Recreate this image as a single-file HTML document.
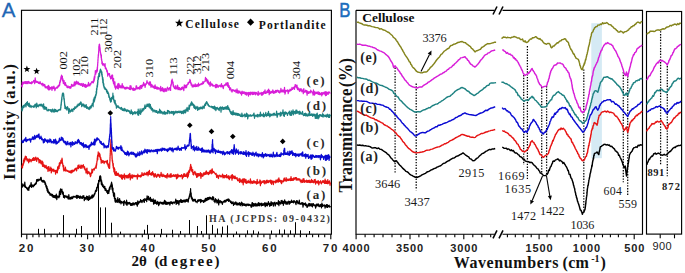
<!DOCTYPE html>
<html><head><meta charset="utf-8"><style>
html,body{margin:0;padding:0;background:#fff;}
svg{display:block;}
</style></head><body>
<svg width="685" height="273" viewBox="0 0 685 273">
<rect width="685" height="273" fill="#fff"/>
<rect x="21.5" y="10.3" width="309.9" height="223.9" fill="none" stroke="#000" stroke-width="1.15"/>
<line x1="21.5" y1="234" x2="21.5" y2="237.3" stroke="#000" stroke-width="1.1"/>
<line x1="26.8" y1="234.2" x2="26.8" y2="239.2" stroke="#000" stroke-width="1.1"/>
<line x1="32.9" y1="234.2" x2="32.9" y2="237.2" stroke="#000" stroke-width="1.1"/>
<line x1="39" y1="234.2" x2="39" y2="237.2" stroke="#000" stroke-width="1.1"/>
<line x1="45" y1="234.2" x2="45" y2="237.2" stroke="#000" stroke-width="1.1"/>
<line x1="51.1" y1="234.2" x2="51.1" y2="237.2" stroke="#000" stroke-width="1.1"/>
<line x1="57.2" y1="234.2" x2="57.2" y2="237.2" stroke="#000" stroke-width="1.1"/>
<line x1="63.3" y1="234.2" x2="63.3" y2="237.2" stroke="#000" stroke-width="1.1"/>
<line x1="69.4" y1="234.2" x2="69.4" y2="237.2" stroke="#000" stroke-width="1.1"/>
<line x1="75.4" y1="234.2" x2="75.4" y2="237.2" stroke="#000" stroke-width="1.1"/>
<line x1="81.5" y1="234.2" x2="81.5" y2="237.2" stroke="#000" stroke-width="1.1"/>
<line x1="87.6" y1="234.2" x2="87.6" y2="239.2" stroke="#000" stroke-width="1.1"/>
<line x1="93.7" y1="234.2" x2="93.7" y2="237.2" stroke="#000" stroke-width="1.1"/>
<line x1="99.8" y1="234.2" x2="99.8" y2="237.2" stroke="#000" stroke-width="1.1"/>
<line x1="105.8" y1="234.2" x2="105.8" y2="237.2" stroke="#000" stroke-width="1.1"/>
<line x1="111.9" y1="234.2" x2="111.9" y2="237.2" stroke="#000" stroke-width="1.1"/>
<line x1="118" y1="234.2" x2="118" y2="237.2" stroke="#000" stroke-width="1.1"/>
<line x1="124.1" y1="234.2" x2="124.1" y2="237.2" stroke="#000" stroke-width="1.1"/>
<line x1="130.2" y1="234.2" x2="130.2" y2="237.2" stroke="#000" stroke-width="1.1"/>
<line x1="136.2" y1="234.2" x2="136.2" y2="237.2" stroke="#000" stroke-width="1.1"/>
<line x1="142.3" y1="234.2" x2="142.3" y2="237.2" stroke="#000" stroke-width="1.1"/>
<line x1="148.4" y1="234.2" x2="148.4" y2="239.2" stroke="#000" stroke-width="1.1"/>
<line x1="154.5" y1="234.2" x2="154.5" y2="237.2" stroke="#000" stroke-width="1.1"/>
<line x1="160.6" y1="234.2" x2="160.6" y2="237.2" stroke="#000" stroke-width="1.1"/>
<line x1="166.6" y1="234.2" x2="166.6" y2="237.2" stroke="#000" stroke-width="1.1"/>
<line x1="172.7" y1="234.2" x2="172.7" y2="237.2" stroke="#000" stroke-width="1.1"/>
<line x1="178.8" y1="234.2" x2="178.8" y2="237.2" stroke="#000" stroke-width="1.1"/>
<line x1="184.9" y1="234.2" x2="184.9" y2="237.2" stroke="#000" stroke-width="1.1"/>
<line x1="191" y1="234.2" x2="191" y2="237.2" stroke="#000" stroke-width="1.1"/>
<line x1="197" y1="234.2" x2="197" y2="237.2" stroke="#000" stroke-width="1.1"/>
<line x1="203.1" y1="234.2" x2="203.1" y2="237.2" stroke="#000" stroke-width="1.1"/>
<line x1="209.2" y1="234.2" x2="209.2" y2="239.2" stroke="#000" stroke-width="1.1"/>
<line x1="215.3" y1="234.2" x2="215.3" y2="237.2" stroke="#000" stroke-width="1.1"/>
<line x1="221.4" y1="234.2" x2="221.4" y2="237.2" stroke="#000" stroke-width="1.1"/>
<line x1="227.4" y1="234.2" x2="227.4" y2="237.2" stroke="#000" stroke-width="1.1"/>
<line x1="233.5" y1="234.2" x2="233.5" y2="237.2" stroke="#000" stroke-width="1.1"/>
<line x1="239.6" y1="234.2" x2="239.6" y2="237.2" stroke="#000" stroke-width="1.1"/>
<line x1="245.7" y1="234.2" x2="245.7" y2="237.2" stroke="#000" stroke-width="1.1"/>
<line x1="251.8" y1="234.2" x2="251.8" y2="237.2" stroke="#000" stroke-width="1.1"/>
<line x1="257.8" y1="234.2" x2="257.8" y2="237.2" stroke="#000" stroke-width="1.1"/>
<line x1="263.9" y1="234.2" x2="263.9" y2="237.2" stroke="#000" stroke-width="1.1"/>
<line x1="270" y1="234.2" x2="270" y2="239.2" stroke="#000" stroke-width="1.1"/>
<line x1="276.1" y1="234.2" x2="276.1" y2="237.2" stroke="#000" stroke-width="1.1"/>
<line x1="282.2" y1="234.2" x2="282.2" y2="237.2" stroke="#000" stroke-width="1.1"/>
<line x1="288.2" y1="234.2" x2="288.2" y2="237.2" stroke="#000" stroke-width="1.1"/>
<line x1="294.3" y1="234.2" x2="294.3" y2="237.2" stroke="#000" stroke-width="1.1"/>
<line x1="300.4" y1="234.2" x2="300.4" y2="237.2" stroke="#000" stroke-width="1.1"/>
<line x1="306.5" y1="234.2" x2="306.5" y2="237.2" stroke="#000" stroke-width="1.1"/>
<line x1="312.6" y1="234.2" x2="312.6" y2="237.2" stroke="#000" stroke-width="1.1"/>
<line x1="318.6" y1="234.2" x2="318.6" y2="237.2" stroke="#000" stroke-width="1.1"/>
<line x1="324.7" y1="234.2" x2="324.7" y2="237.2" stroke="#000" stroke-width="1.1"/>
<line x1="330.8" y1="234.2" x2="330.8" y2="239.2" stroke="#000" stroke-width="1.1"/>
<line x1="38.5" y1="234.2" x2="38.5" y2="228.8" stroke="#000" stroke-width="1.05"/>
<line x1="44.5" y1="234.2" x2="44.5" y2="228.8" stroke="#000" stroke-width="1.05"/>
<line x1="59.5" y1="234.2" x2="59.5" y2="232.3" stroke="#000" stroke-width="1.05"/>
<line x1="63.5" y1="234.2" x2="63.5" y2="215.1" stroke="#000" stroke-width="1.05"/>
<line x1="76.5" y1="234.2" x2="76.5" y2="228.8" stroke="#000" stroke-width="1.05"/>
<line x1="81.5" y1="234.2" x2="81.5" y2="226" stroke="#000" stroke-width="1.05"/>
<line x1="98.5" y1="234.2" x2="98.5" y2="180" stroke="#000" stroke-width="1.05"/>
<line x1="100.5" y1="234.2" x2="100.5" y2="207.4" stroke="#000" stroke-width="1.05"/>
<line x1="105.5" y1="234.2" x2="105.5" y2="207.4" stroke="#000" stroke-width="1.05"/>
<line x1="111.5" y1="234.2" x2="111.5" y2="222.7" stroke="#000" stroke-width="1.05"/>
<line x1="120.5" y1="234.2" x2="120.5" y2="231.6" stroke="#000" stroke-width="1.05"/>
<line x1="144.5" y1="234.2" x2="144.5" y2="229.7" stroke="#000" stroke-width="1.05"/>
<line x1="147.5" y1="234.2" x2="147.5" y2="224.9" stroke="#000" stroke-width="1.05"/>
<line x1="161.5" y1="234.2" x2="161.5" y2="228.9" stroke="#000" stroke-width="1.05"/>
<line x1="172.5" y1="234.2" x2="172.5" y2="229.7" stroke="#000" stroke-width="1.05"/>
<line x1="180.5" y1="234.2" x2="180.5" y2="231" stroke="#000" stroke-width="1.05"/>
<line x1="189.5" y1="234.2" x2="189.5" y2="220" stroke="#000" stroke-width="1.05"/>
<line x1="197.5" y1="234.2" x2="197.5" y2="226" stroke="#000" stroke-width="1.05"/>
<line x1="201.5" y1="234.2" x2="201.5" y2="231" stroke="#000" stroke-width="1.05"/>
<line x1="206.5" y1="234.2" x2="206.5" y2="215.3" stroke="#000" stroke-width="1.05"/>
<line x1="212.5" y1="234.2" x2="212.5" y2="224.9" stroke="#000" stroke-width="1.05"/>
<line x1="217.5" y1="234.2" x2="217.5" y2="228.5" stroke="#000" stroke-width="1.05"/>
<line x1="222.5" y1="234.2" x2="222.5" y2="226.6" stroke="#000" stroke-width="1.05"/>
<line x1="227.5" y1="234.2" x2="227.5" y2="225.4" stroke="#000" stroke-width="1.05"/>
<line x1="236.5" y1="234.2" x2="236.5" y2="231.5" stroke="#000" stroke-width="1.05"/>
<line x1="247.5" y1="234.2" x2="247.5" y2="230.3" stroke="#000" stroke-width="1.05"/>
<line x1="253.5" y1="234.2" x2="253.5" y2="230.3" stroke="#000" stroke-width="1.05"/>
<line x1="258.5" y1="234.2" x2="258.5" y2="231.5" stroke="#000" stroke-width="1.05"/>
<line x1="271.5" y1="234.2" x2="271.5" y2="230.5" stroke="#000" stroke-width="1.05"/>
<line x1="279.5" y1="234.2" x2="279.5" y2="229.5" stroke="#000" stroke-width="1.05"/>
<line x1="284.5" y1="234.2" x2="284.5" y2="229.5" stroke="#000" stroke-width="1.05"/>
<line x1="290.5" y1="234.2" x2="290.5" y2="230.3" stroke="#000" stroke-width="1.05"/>
<line x1="295.5" y1="234.2" x2="295.5" y2="222.2" stroke="#000" stroke-width="1.05"/>
<line x1="300.5" y1="234.2" x2="300.5" y2="230.3" stroke="#000" stroke-width="1.05"/>
<line x1="309.5" y1="234.2" x2="309.5" y2="231" stroke="#000" stroke-width="1.05"/>
<polyline points="21.8,186.4 22.3,187.2 22.8,183.8 23.4,185.9 23.9,185.1 24.4,186.4 24.8,182 25.2,187.5 25.6,186.1 26,187.6 26.3,187.3 26.7,188.6 27.1,187.7 27.5,190 27.9,188.6 28.2,189.4 28.5,187.7 28.8,190.5 29.1,186.5 29.4,188 29.7,185.7 30,185.2 30.3,186.6 30.6,186.3 31.1,182.6 31.6,187.4 32.1,184.9 32.6,185.2 33.1,186.9 33.6,186.2 34.1,184.5 34.4,185.7 34.7,184.1 35.1,184.5 35.4,183 35.7,184.3 36,182.8 36.3,183.8 36.6,179.7 37,181.7 37.3,179.7 37.6,180.8 38.1,179.1 38.6,180.8 39.1,179.9 39.6,179.3 40.1,180.2 40.6,177.7 41.1,177.3 41.6,180.9 42.1,181.5 42.6,180.5 43.1,182.4 43.6,180.3 44.1,180.7 44.6,182.7 44.8,181.4 45,184.3 45.2,182.3 45.4,183.5 45.6,185 45.7,183.7 45.9,186.5 46.1,185 46.3,187.6 46.5,185.7 46.7,188.8 46.9,186.4 47.1,190.6 47.3,188.4 47.5,188.2 47.7,192.1 47.9,189.3 48,191.9 48.2,190.6 48.4,192.4 48.6,191.7 48.8,193.2 49,193.6 49.5,192.4 50,195.2 50.5,193.7 51,195.3 51.4,194 51.9,196.1 52.4,194.4 52.9,197.2 53.4,195.4 53.9,197.5 54.4,195.6 54.8,197.7 55.3,195.5 55.8,198.1 56.3,194.2 56.8,199.6 57.3,196.1 57.7,196 58.2,197.2 58.7,196.1 58.9,197.8 59.1,195.3 59.2,195.1 59.4,191.5 59.6,196.7 59.8,192.4 60,193.8 60.1,190.1 60.3,194.2 60.5,188.9 60.7,194.5 60.9,189.5 61,191.2 61.2,189.6 61.4,190.5 61.6,189.3 61.7,190.8 61.9,189.1 62.1,192.4 62.3,191 62.4,193.4 62.6,191.4 62.8,194.2 63,192.3 63.1,194.7 63.3,192.4 63.5,197.3 63.7,196.5 63.8,195.4 64,197.1 64.5,198 65,195.3 65.4,197 65.9,196.3 66.4,197.3 66.9,195.9 67.4,198 67.9,196.6 68.3,199.2 68.8,194.7 69.3,198.4 69.8,199.1 70.2,197.7 70.7,199.1 71.2,196.8 71.6,198.7 72.1,197.2 72.6,198.6 73,196.3 73.5,197.2 74,196.2 74.4,197.1 74.9,196.6 75.4,197 75.8,197.3 76.3,195.3 76.8,198.5 77.2,195.4 77.7,197.9 78.2,195.6 78.6,197.5 79.1,196.5 79.6,198.3 80,196.1 80.5,196.2 81,198.4 81.4,196.8 81.9,196.8 82.4,198.5 82.8,195.9 83.3,197.4 83.8,195.7 84.3,200.7 84.7,197.5 85.2,199.3 85.7,197.4 86.2,198.8 86.7,196.2 87.2,199.9 87.6,196.6 88.1,197.5 88.6,200.4 89.1,195.7 89.6,199.5 90,197.9 90.5,198.5 91,196.3 91.5,198.1 92,195.1 92.5,197.8 92.9,194.8 93.4,197 93.9,195.3 94.1,195.9 94.3,193.9 94.5,194.7 94.7,193.2 94.9,194 95.1,193.1 95.3,191.6 95.5,190.5 95.8,191.5 96,191.6 96.2,189.7 96.4,191.2 96.6,187.7 96.8,190.4 97,187.4 97.2,188.2 97.4,186.2 97.5,187.4 97.6,184.7 97.8,187.1 97.9,183.6 98,186.7 98.1,185.6 98.3,182.9 98.4,184 98.5,182.8 98.6,184.4 98.8,181.9 98.9,182.4 99,180.8 99.1,180.6 99.3,181.1 99.4,178.8 99.5,180.2 99.6,176.5 99.8,181.2 99.9,177.7 100,176.8 100.2,175.7 100.3,179 100.5,178.7 100.6,179.9 100.8,176.6 101,181.3 101.1,179 101.3,184.3 101.4,182.2 101.6,180.5 101.7,184.4 101.9,182.1 102.1,185.4 102.2,183.3 102.4,185 102.5,186.3 102.7,185.4 103.1,184.8 103.4,187.4 103.8,187.6 104.1,186.4 104.5,188.7 104.8,186.4 105.2,190.4 105.5,189 105.9,188.6 106.2,190.8 106.6,190.3 106.9,192.4 107.3,190.7 107.6,193.7 108,192.3 108.2,192.9 108.3,190.6 108.5,192.2 108.7,190.6 108.8,193.5 109,188.9 109.2,191.2 109.3,190.1 109.5,187.4 109.7,189.5 109.8,186.9 110,189.1 110.2,186 110.3,186.5 110.5,185.6 110.7,186.7 110.8,184.8 111,186.6 111.2,183.5 111.3,185.1 111.5,182.6 111.6,182.2 111.7,185.2 111.8,183.2 111.8,185.7 111.9,183.6 112,189 112.1,184.4 112.2,189.8 112.3,184.9 112.4,186.4 112.4,189.7 112.5,189.7 112.6,188 112.7,191 112.8,189.7 112.9,192.4 113,188.1 113,191.7 113.1,191 113.2,193 113.3,192.2 113.5,195.7 113.6,193.4 113.8,196.5 113.9,194.5 114.1,195.9 114.2,192.9 114.4,198.5 114.5,193.2 114.7,196 114.8,199 115,201.3 115.1,198.7 115.3,198.6 115.4,202.2 115.6,200.3 115.7,198.7 115.9,202.2 116.4,201.2 116.8,200.2 117.3,202.4 117.8,197.7 118.2,202 118.7,199.9 119.2,202.7 119.6,198.6 120.1,202.7 120.5,200.8 121,203.8 121.5,201.3 121.9,202.6 122.4,202.2 122.9,203 123.3,201.6 123.8,205.5 124.3,200.7 124.7,201.6 125.2,203 125.7,202.4 126.1,204.5 126.6,200.2 127,205.5 127.5,202.4 128,203.8 128.4,202.5 128.9,204.1 129.4,202.3 129.8,203.9 130.3,203.1 130.7,205.5 131.2,203.5 131.7,205.4 132.1,203.3 132.6,205.1 133.1,202.7 133.5,204 134,205.1 134.5,203.3 135,204.2 135.4,202.6 135.9,202.7 136.4,204.7 136.9,202.4 137.3,206.2 137.8,200.8 138.3,204.1 138.8,201.8 139.2,202.9 139.7,201.4 140.2,202.1 140.6,199.6 141.1,202 141.6,200.6 142,202.7 142.5,200.7 143,200.9 143.4,199.4 143.9,201.7 144.3,202.4 144.8,198.6 145.3,200.3 145.7,199.5 146.2,198.9 146.7,201.7 147.1,195.8 147.6,199.5 148.1,199 148.5,196.3 149,200.2 149.5,198.3 149.9,200.2 150.4,197.4 150.8,201.5 151.3,199.1 151.8,201.5 152.2,199.9 152.7,201.5 153.2,198.9 153.6,204.1 154.1,203.7 154.5,200 155,203.1 155.5,200.1 155.9,203.4 156.4,202.8 156.9,204.5 157.3,201.3 157.8,203.5 158.2,202.2 158.7,205.7 159.1,202.1 159.6,204.2 160,202.8 160.5,202 160.9,202.1 161.4,203.7 161.8,202.5 162.3,204.1 162.7,202.4 163.2,204.1 163.6,202.1 164.1,203.8 164.5,200.3 165,200.6 165.4,204.1 165.9,201.7 166.3,204.4 166.8,202.3 167.2,204.4 167.7,202.4 168.1,203.6 168.6,202.3 169,204 169.5,202.4 169.9,205.1 170.4,201.8 170.8,203.2 171.3,201.7 171.7,203.5 172.2,202.4 172.6,204 173.1,202.2 173.5,202.7 174,202.2 174.4,203.2 174.9,201.9 175.3,202.2 175.8,199.2 176.2,204.5 176.7,200.7 177.2,203.3 177.6,200.7 178.1,203.3 178.5,200.9 178.9,204.9 179.4,200.6 179.8,200.8 180.3,201.9 180.8,199.3 181.2,202.3 181.7,200.1 182.1,202.4 182.6,200.6 183,202.2 183.4,200.2 183.9,200.5 184.3,201.8 184.8,199.8 185.2,202.2 185.7,199.9 186.2,201.4 186.6,199.4 187.1,201.2 187.5,199.7 187.7,201.3 188,199.1 188.2,202.2 188.4,200.8 188.7,197.9 188.9,198.8 189.1,198.3 189.3,195.8 189.6,196.8 189.8,193.8 189.9,196.7 190,194.4 190,195.4 190.1,193.3 190.2,194.5 190.3,191.2 190.4,193.5 190.4,192 190.5,193 190.6,188.7 190.7,192.7 190.7,191.7 190.8,194.6 190.9,192.5 190.9,193.5 191,192.5 191.1,195.3 191.2,193.3 191.2,193.3 191.3,198.1 191.4,195.8 191.4,196.7 191.5,196.3 191.7,198.7 191.9,197 192.1,199.7 192.4,198.1 192.6,201 192.8,199.4 193,199.2 193.5,201.2 193.9,199.5 194.4,199.3 194.8,201 195.3,199.3 195.7,201.8 196.2,201.5 196.6,201.8 197.1,202.8 197.5,200.2 198,200.2 198.4,201.4 198.9,199.5 199.4,200.9 199.8,200.3 200.3,199.4 200.7,202.7 201.2,199.6 201.6,201.4 202.1,200.6 202.5,201 203,200.5 203.4,202.5 203.9,202.1 204.4,200 204.9,201.6 205.4,198.4 205.9,200.8 206.4,198.3 206.9,200.3 207.4,197.6 207.9,200 208.4,197.6 208.8,199.3 209.3,197.2 209.8,198.9 210.3,197.4 210.8,199 211.3,197.9 211.7,199.2 212.2,200 212.7,196.6 213.2,199.5 213.6,197.2 214.1,201.5 214.6,200.2 215,202.7 215.5,198.7 215.9,201.1 216.4,199.7 216.9,202.9 217.3,200.6 217.8,202.9 218.3,199.2 218.7,205 219.2,200.3 219.6,202.6 220.1,201.6 220.6,200.7 221,202.9 221.5,201.5 222,202.3 222.4,204.5 222.9,201.7 223.4,201.5 223.9,202.1 224.3,200.3 224.8,202.2 225.3,200.3 225.8,202 226.2,199.8 226.7,200.9 227.2,199.3 227.7,200.5 228.2,198.9 228.6,201.3 229.1,199.3 229.6,201.2 230.1,200.6 230.6,202.7 231.1,201.3 231.6,203.7 232.1,202.1 232.6,203.5 233.1,201.9 233.5,205.4 234,203.4 234.4,204.4 234.9,202.3 235.3,203.9 235.8,201.9 236.2,204.7 236.7,202.9 237.1,205.1 237.6,203.2 238,204.6 238.5,203.4 238.9,204.8 239.4,202.7 239.8,204.3 240.3,205.6 240.7,203.2 241.2,204.5 241.6,202 242.1,205.8 242.5,203.1 243,205.5 243.4,204 243.9,203.6 244.3,205.3 244.8,204.1 245.2,205.6 245.7,204.3 246.1,206.1 246.6,204.2 247,205.1 247.5,204 247.9,205.4 248.4,204.1 248.8,205.6 249.3,204.3 249.7,205.3 250.2,205.6 250.7,204.7 251.1,207.2 251.6,207.2 252,202.8 252.5,202.6 252.9,206.1 253.4,203.7 253.8,206.1 254.3,203.7 254.8,204.6 255.2,206 255.7,203.4 256.1,206 256.6,204.1 257,205.8 257.5,203.8 257.9,205.9 258.4,202.7 258.8,205.5 259.3,203.2 259.8,205.8 260.2,203.8 260.7,204.7 261.1,203.1 261.6,205.9 262,203.3 262.5,205.3 262.9,205.4 263.4,203.7 263.9,205.2 264.3,205 264.8,202.7 265.2,206.7 265.7,205.4 266.1,202.8 266.6,205.6 267,203.7 267.5,205.9 268,203 268.4,201.6 268.9,204.5 269.3,203.4 269.8,206.4 270.2,203.4 270.7,205.3 271.1,201.6 271.6,205.5 272,202.8 272.5,203.8 273,202.5 273.4,206.2 273.9,203 274.3,203.7 274.8,202.1 275.2,206 275.7,204 276.1,202.9 276.6,202.6 277.1,204 277.5,202.8 278,204.5 278.4,200.5 278.9,205.6 279.3,201.5 279.8,203.7 280.2,202.6 280.7,204.1 281.1,200.7 281.6,203.2 282,200.4 282.5,203.5 282.9,201.4 283.4,205.3 283.8,201.4 284.3,203.2 284.7,199.8 285.2,203.1 285.6,201.6 286.1,204.3 286.5,203.1 287,201.6 287.4,204.2 287.9,202.1 288.3,203 288.8,201 289.2,204.5 289.7,201.7 290.1,203.3 290.6,201.6 291,202.4 291.5,200.1 291.9,202.4 292.4,201.9 292.8,202.3 293.3,200.8 293.7,203 294.2,200.6 294.6,202 295.1,201.6 295.5,202.9 296,204.6 296.5,200.7 296.9,202.3 297.4,200.8 297.9,203.7 298.3,202.4 298.8,203.6 299.3,200 299.7,203.6 300.2,204.3 300.7,203.3 301.1,204 301.6,202.7 302.1,204.4 302.5,202.7 303,207.2 303.5,203.1 303.9,204.7 304.4,203.6 304.8,204.7 305.3,202.9 305.7,205.6 306.2,204 306.6,205.7 307.1,207.5 307.5,207 308,204.3 308.4,206 308.9,203.3 309.3,206 309.8,203.5 310.2,205.8 310.7,205.1 311.1,203.7 311.6,206.1 312,204 312.5,206.9 312.9,203.7 313.4,203.6 313.8,205.3 314.3,204.8 314.7,205.8 315.2,204.9 315.6,208.2 316.1,206.4 316.5,204.2 317,205.8 317.4,204 317.9,205.8 318.3,203.8 318.8,206.1 319.2,206.7 319.7,206.4 320.1,204.4 320.6,206.4 321,204.5 321.5,207.9 321.9,203.1 322.4,206.5 322.8,204.7 323.3,206 323.7,205.4 324.2,205.9 324.6,204.9 325.1,208.2 325.5,205.6 326,206.5 326.4,204.7 326.9,207.4 327.3,204.6 327.8,207.4 328.2,205.7 328.7,206.4 329.1,205.1 329.6,207.1 330,207 330.5,206.1" fill="none" stroke="#000" stroke-width="1.2" stroke-linejoin="round" />
<polyline points="21.8,165.6 22,167.7 22.2,165 22.4,166.2 22.5,167.9 22.7,163.8 22.9,165.6 23.1,163.4 23.3,165 23.5,160 23.6,163.4 23.8,160.6 24,162.7 24.2,158.9 24.4,158.2 24.6,161.1 24.7,159.3 24.9,160.4 25.1,158.1 25.3,156.2 25.8,159.2 26.3,156.5 26.7,159 27.2,161 27.7,158.9 28.2,160.5 28.7,162.9 29.2,158.8 29.6,161.3 30.1,159.4 30.6,159.7 31.1,161.8 31.5,159.9 32,160.5 32.5,158.6 32.9,160.4 33.4,157.5 33.9,160.3 34.3,157.9 34.8,160.4 35.3,159.6 35.7,157.1 36.2,158.1 36.7,161.3 37.1,158.9 37.6,157.9 38,159.1 38.3,158.2 38.7,160 39,162.9 39.4,162.2 39.7,159.7 40.1,161.1 40.4,162.9 40.8,160.4 41.1,163.8 41.5,162.4 41.8,163.9 42.2,161.1 42.5,166.3 42.9,162.1 43.4,166.3 43.8,164.8 44.3,167.2 44.8,165.2 45.2,167.8 45.7,166.5 46.2,165.5 46.6,168.7 47.1,168.3 47.6,167.1 48,171.4 48.5,166.6 49,166.8 49.4,170.8 49.9,169 50.4,170.3 50.8,167 51.3,172.9 51.8,168.7 52.3,170.6 52.7,169.6 53.2,171.6 53.7,169.1 54.2,171 54.6,171.3 55.1,170.4 55.6,174.1 56.1,170.4 56.5,170.9 57,172.6 57.2,169.6 57.4,172.8 57.6,166.8 57.8,169.9 57.9,168.5 58.1,170 58.3,167.8 58.5,167.9 58.7,165.7 58.9,166.3 59.1,168.5 59.3,163 59.4,165.7 59.6,163.6 59.8,166 60,162.4 60.2,163.7 60.4,162.2 60.6,163.7 60.8,161.3 60.9,160.4 61.1,161.8 61.3,161.5 61.5,160.1 61.7,160.9 61.8,159.4 61.9,163.2 62,158.1 62.1,162.8 62.2,158.9 62.4,161.9 62.5,162.7 62.6,164.2 62.7,163.2 62.8,165.1 62.9,164.6 63,166.8 63.1,165.1 63.2,166.7 63.3,166 63.5,169.7 63.6,166.8 63.7,165.6 63.8,170.9 63.9,168.9 64,170.4 64.5,169.1 64.9,170.7 65.4,167.2 65.9,171.1 66.3,169.9 66.8,171 67.3,170.5 67.7,171.5 68.2,170.9 68.7,171 69.1,172.5 69.6,171 70.1,172.4 70.5,170.8 71,173.1 71.5,170.4 71.9,172.6 72.4,170.2 72.9,171.8 73.3,170.6 73.8,171.2 74.3,169.4 74.7,170.6 75.2,168.5 75.7,169.4 76.1,167.8 76.6,171 77.1,168.2 77.5,168.3 78,165.3 78.5,168.6 79,164.9 79.4,167.4 79.9,166.7 80.4,168.3 80.9,165 81.4,165.5 81.9,168.5 82.3,165.7 82.8,166.9 83.3,164.7 83.6,167.1 84,166.2 84.3,168.8 84.6,166.8 85,169.9 85.3,169.2 85.7,169.3 86,173 86.3,169.2 86.7,171.9 87,168 87.3,174 87.7,173 88,171.4 88.5,173.1 89,171.8 89.5,174.1 89.9,173 90.4,176.7 90.9,175.6 91.2,172.7 91.6,173.4 91.9,169.1 92.2,173 92.6,172 92.9,169.5 93.2,169.9 93.6,168.8 93.9,169.5 94.3,170 94.6,168.3 95,168.3 95.4,167 95.7,167.1 96.1,165 96.2,168.2 96.3,164.3 96.3,167.3 96.4,163.5 96.5,166 96.6,164 96.7,164.7 96.8,162.8 96.8,161.8 96.9,162.5 97,160.8 97.1,161 97.2,161 97.2,158.3 97.3,160.2 97.4,156.5 97.5,159 97.6,155 97.6,158.4 97.7,156.8 97.8,159.7 97.9,154.9 98,156.4 98.1,153.8 98.1,154.9 98.2,151.9 98.3,154.2 98.5,152.8 98.8,155.5 99,153.9 99.2,156.1 99.5,153.2 99.7,157 99.9,154.1 100.2,156.3 100.4,159.4 100.7,157.4 100.9,158.6 101.2,163.2 101.4,159.7 101.7,161 101.9,160.3 102.5,162.6 103,160.6 103.5,161 104.1,163.6 104.6,161.3 105.2,162 105.8,161.2 106.3,162 106.5,161.2 106.7,163 107,162 107.2,164 107.4,160.4 107.6,164.3 107.8,163.9 108.1,166.1 108.3,163.8 108.5,165.3 108.7,168 108.9,167.4 109.2,164.9 109.4,166.7 109.6,166.6 109.6,168.5 109.6,167.7 109.7,166 109.7,167.6 109.7,162.3 109.7,166.2 109.7,163.5 109.8,164.5 109.8,162.5 109.8,164.4 109.8,162.4 109.8,163.1 109.9,161.3 109.9,160.7 109.9,161.9 109.9,159.7 109.9,161.3 110,157.8 110,159.1 110,160.8 110,157.1 110,158.6 110.1,157.1 110.1,157.7 110.1,155.3 110.1,157.7 110.1,154.9 110.2,155.7 110.2,154.1 110.2,155 110.2,154.9 110.2,153.1 110.3,154.4 110.3,151.3 110.3,152.4 110.3,150.8 110.3,151.6 110.4,149.4 110.4,151.6 110.4,151.1 110.4,148.3 110.5,150.4 110.5,147.6 110.5,150.2 110.5,146.5 110.6,148 110.6,145.6 110.6,146.7 110.6,145.1 110.7,144.4 110.7,148.2 110.7,143.6 110.7,145.1 110.8,143.3 110.8,144.3 110.8,142.2 110.8,143.6 110.9,139.7 110.9,142.2 110.9,140.8 110.9,141.9 111,141.3 111,143.6 111,141.6 111.1,145.9 111.1,143.5 111.1,145.1 111.1,143.7 111.2,143.6 111.2,144.9 111.2,148.2 111.3,145.3 111.3,147.2 111.3,146.9 111.3,150.2 111.4,147.7 111.4,150.1 111.4,150.5 111.5,149.4 111.5,151.3 111.5,150 111.6,151.9 111.6,149.9 111.6,150.6 111.7,154.4 111.7,151.2 111.8,153.9 111.8,153.4 111.8,154.5 111.9,153.2 111.9,153.5 111.9,156.1 112,154.5 112,159 112,154 112.1,157.5 112.1,156.4 112.2,158.6 112.2,160.9 112.2,158.7 112.3,160.5 112.3,159.8 112.4,161.2 112.4,159.8 112.5,162.5 112.6,160.5 112.7,162.8 112.7,162.2 112.8,164.3 112.9,163.5 112.9,165.5 113,165.1 113.1,166.1 113.2,163.4 113.2,167.5 113.3,163.8 113.4,168.2 113.5,167.6 113.5,166.7 113.6,169.3 113.8,168.7 113.9,171.8 114.1,168.5 114.3,170.5 114.4,167.8 114.6,173.5 114.8,169 115,174.8 115.1,174.6 115.3,171.9 115.5,174.1 115.6,172.8 115.8,175.5 116.3,171.6 116.8,175.3 117.3,173.4 117.8,175.4 118.2,173.2 118.7,174.3 119.2,176.7 119.7,175.1 120.2,175.9 120.7,177.2 121.1,174.7 121.6,178.8 122,175 122.5,179.1 122.9,175.3 123.4,177.6 123.8,176.5 124.3,173.8 124.7,179.2 125.2,175.3 125.6,176.9 126.1,175.4 126.6,178 127,175.5 127.5,177.9 128,175 128.4,178 128.9,174.4 129.3,177.2 129.8,173.3 130.3,179.8 130.7,175.3 131.2,178.1 131.7,176.9 132.1,174.6 132.6,178.1 133.1,175.6 133.5,176.6 134,175 134.5,176.7 135,175.7 135.4,176.7 135.9,175.6 136.4,176.5 136.9,175.5 137.3,179.1 137.8,174.2 138.3,176.7 138.8,175.6 139.2,176.3 139.7,175.6 140.2,177.1 140.6,175.1 141.1,176.7 141.6,175.5 142,172.6 142.5,175.1 143,175.5 143.4,173.9 143.9,175.5 144.3,172.9 144.8,174.3 145.3,173.9 145.7,174.7 146.2,172.8 146.7,174.8 147.1,172.1 147.6,172.9 148.1,175.8 148.5,171.7 149,174.4 149.4,170.4 149.9,174.4 150.3,174.5 150.8,173.4 151.2,175.3 151.7,172.5 152.1,174.5 152.6,171.5 153,175.1 153.5,173.3 153.9,176.8 154.4,174 154.8,176.8 155.3,173.5 155.7,175.8 156.2,176 156.6,177.4 157.1,174.6 157.5,176.2 158,174 158.4,175.9 158.9,174.5 159.3,176.3 159.8,177.5 160.2,174.8 160.7,175.7 161.1,172.4 161.6,176.1 162,175.3 162.5,176.6 162.9,174.1 163.4,176.3 163.8,175 164.3,175.3 164.7,176.9 165.2,175.5 165.7,177.4 166.1,175.7 166.6,175 167,178.1 167.5,173.5 167.9,174.7 168.4,176.9 168.8,176.3 169.3,175.5 169.7,177.2 170.2,174 170.6,177.2 171.1,173.7 171.5,177 172,175.7 172.4,175.6 172.9,176.5 173.3,174.6 173.8,176.2 174.2,175.5 174.7,176.5 175.1,174.6 175.6,176.3 176,174.9 176.5,178.8 176.9,174.9 177.4,178.1 177.8,174.1 178.3,177 178.7,175.3 179.2,176.1 179.6,175.5 180.1,176.9 180.5,175.5 181,176.3 181.4,174.7 181.9,174.8 182.3,178.8 182.8,175.8 183.3,177.3 183.7,173.9 184.2,176.3 184.7,173.6 185.2,176.3 185.6,175 186.1,176.5 186.6,174.5 187.1,172.8 187.5,177.8 188,175.3 188.2,172.2 188.4,176.2 188.5,171 188.7,174.4 188.9,171.9 189.1,172.6 189.3,170.1 189.5,171.1 189.6,172.3 189.8,169 190,170.8 190.1,167.1 190.1,170.3 190.2,168.2 190.3,167.9 190.3,168.1 190.4,166.9 190.4,168.1 190.5,165.2 190.6,164.5 190.6,166.7 190.7,164.4 190.8,165.7 190.9,166.6 190.9,167.5 191,168 191.1,166.1 191.2,168.7 191.3,167.9 191.4,169.9 191.4,167.8 191.5,171 191.6,167 191.9,171.2 192.1,169.8 192.4,172.1 192.7,169.5 193,174.5 193.2,172.3 193.5,174.9 194,172.3 194.4,172.6 194.9,171.3 195.3,174.8 195.8,172.8 196.3,174.8 196.7,177.5 197.2,173.5 197.6,176.8 198.1,173.5 198.6,176 199,173.6 199.5,175.7 199.9,175.6 200.4,172.6 200.9,178.3 201.3,175.9 201.8,173.4 202.2,176 202.7,176.4 203.1,175.7 203.6,172.8 204,175 204.5,172.9 205,174.4 205.4,172 205.9,174.5 206.3,170.8 206.8,172.7 207.2,174.1 207.7,172.3 208.1,172.4 208.6,174.6 209.1,172 209.5,173.6 210,170.5 210.4,172.8 210.9,170.2 211.3,173.8 211.8,169.9 212.2,168.8 212.7,173.1 213.2,172.1 213.7,171.3 214.1,172.7 214.6,172.7 215.1,173.9 215.6,174.4 216.1,173.3 216.6,177.4 217,176.3 217.5,175 218,177.6 218.5,178.5 218.9,175.3 219.4,175.5 219.8,175.2 220.3,176.8 220.7,175.8 221.2,176.9 221.6,175.8 222.1,176.7 222.5,174.1 223,178 223.4,175.4 223.9,175.6 224.3,177.9 224.8,175.4 225.2,176.8 225.7,175.7 226.1,177.7 226.6,174.7 227,177.7 227.5,177.4 227.9,176.2 228.4,178.3 228.8,175.6 229.3,179.6 229.7,176.9 230.2,177.9 230.6,178 231.1,175.7 231.5,175.2 232,180.2 232.4,174.5 232.9,178.3 233.3,176.6 233.8,175.9 234.2,178 234.7,178.6 235.1,176 235.6,178.7 236.1,177.7 236.6,179 237.1,177.6 237.6,180.6 238.1,180.9 238.6,180.6 239.1,178.4 239.6,182.5 240.1,178.9 240.5,181.8 241,180.8 241.4,180 241.9,182.7 242.3,180.2 242.8,178.9 243.2,184.8 243.7,178.8 244.1,182.1 244.6,178.9 245,181.5 245.5,182.8 245.9,179.3 246.4,183.5 246.8,181.4 247.3,183 247.7,182.2 248.2,180.3 248.6,182.7 249.1,181.6 249.5,182.9 250,181.1 250.4,178.8 250.9,183.6 251.3,181.2 251.8,182.8 252.2,181.7 252.7,183.5 253.1,181.1 253.6,182.9 254,180.5 254.5,183 254.9,181.5 255.4,183 255.8,181.5 256.3,183.6 256.7,184 257.2,179.4 257.6,183.3 258.1,183.3 258.5,182.1 259,181.8 259.5,183 259.9,179.9 260.4,185.6 260.8,180.9 261.3,183.6 261.7,182 262.2,181.9 262.6,182.4 263.1,180.7 263.5,181.1 264,183.2 264.4,180.7 264.9,183.9 265.3,181.7 265.8,182.8 266.2,180.4 266.7,183.1 267.1,180 267.6,182.4 268,180.8 268.5,182.6 268.9,180.5 269.4,182 269.8,181.2 270.3,180.1 270.7,183.1 271.2,180.4 271.6,184.3 272.1,180.8 272.5,182.7 273,181.2 273.4,184.7 273.9,181.1 274.3,181.7 274.8,182.1 275.2,181.1 275.7,183 276.1,179.9 276.6,182.2 277.1,180.3 277.5,181.8 278,179 278.4,182.2 278.9,177.8 279.3,181.3 279.8,180.1 280.2,182 280.7,180.4 281.1,182.7 281.6,183.7 282,180.4 282.5,182 282.9,182 283.4,181.7 283.8,179 284.3,178 284.7,180.9 285.2,179.3 285.6,181 286.1,177.6 286.5,181.2 287,179.2 287.4,179.1 287.9,180.6 288.3,179.1 288.8,180.5 289.2,179.1 289.7,180 290.1,178.6 290.6,180.6 291,176.7 291.5,180.4 291.9,178.9 292.4,180.5 292.8,178.6 293.3,180.3 293.7,177.8 294.2,179.6 294.6,178.7 295.1,177.6 295.5,177.5 296,180 296.5,177.6 296.9,180.1 297.4,178.7 297.9,180.1 298.3,178.6 298.8,180 299.3,179.5 299.7,178.8 300.2,181.3 300.7,180 301.1,182.6 301.6,180.2 302.1,180.8 302.5,182.5 303,178.9 303.5,181.9 303.9,178.6 304.4,182.4 304.8,180.6 305.3,181.7 305.7,180.8 306.2,182.2 306.6,180 307.1,182.3 307.5,180.7 308,182.4 308.4,180.3 308.9,181 309.3,182.5 309.8,180.2 310.2,182.7 310.7,181.1 311.1,182.3 311.6,179.3 312,182.4 312.5,180.5 312.9,182.3 313.4,181.3 313.8,182.8 314.3,179.7 314.7,182.2 315.2,179.3 315.6,184.2 316.1,181.5 316.5,182.7 317,181 317.4,183.1 317.9,181.3 318.3,180.7 318.8,185 319.2,183.1 319.7,181.6 320.1,182.1 320.6,180.7 321,183.3 321.5,183.9 321.9,181.8 322.4,182.4 322.8,180.7 323.3,180.6 323.7,182.6 324.2,181 324.6,183.5 325.1,179 325.5,183.3 326,180.7 326.4,183.4 326.9,181.5 327.3,183.6 327.8,179.6 328.2,183.6 328.7,181.7 329.1,182.9 329.6,180.9 330,185.3 330.5,182.3" fill="none" stroke="#e61414" stroke-width="1.2" stroke-linejoin="round" />
<polyline points="21.8,139.9 22.3,142.7 22.8,141.2 23.3,142.4 23.8,139.9 24.3,140.7 24.8,138.8 25.3,140.9 25.8,137.3 26.3,141.6 26.7,141.4 27.2,139.3 27.7,140.4 28.2,139.6 28.7,139.9 29.2,138.8 29.6,140.2 30.1,138.8 30.6,142.2 31.1,139.2 31.5,139.5 32,139.2 32.5,136.8 32.9,139.1 33.4,137.1 33.9,139.7 34.3,136.8 34.8,135.3 35.3,138.8 35.7,136.9 36.2,137.6 36.7,135.4 37.1,137.1 37.6,135.2 38.1,137.4 38.6,134.2 39,134 39.5,138.8 40,137.3 40.5,138.5 41,136 41.5,139.7 41.9,138 42.4,139.9 42.9,139.4 43.4,143 43.8,139.6 44.3,142.3 44.8,138.7 45.2,140.7 45.7,139.4 46.2,141.7 46.6,140.4 47.1,140.3 47.6,142.8 48,139.5 48.5,141.9 49,140.5 49.4,142.2 49.9,138.8 50.4,141.6 50.8,139.7 51.3,142.9 51.8,141.3 52.3,142.2 52.7,141.6 53.2,143.2 53.7,139.7 54.2,142.9 54.6,139.8 55.1,143 55.6,139.2 56.1,144.1 56.5,141.1 57,143.6 57.5,143.3 57.9,142.1 58.4,141 58.9,142.3 59.4,138.2 59.8,140.8 60.3,139.8 60.8,140.5 61.3,137.1 61.7,139.8 62.2,137.7 62.6,140.2 63,138.3 63.4,141.8 63.8,140.3 64.2,142.7 64.6,142.2 65,141.7 65.4,144 65.8,141.3 66.3,144.8 66.7,142.9 67.2,144.7 67.7,141.4 68.1,143.6 68.6,143.5 69.1,145 69.5,142.8 70,144.2 70.5,142.3 70.9,146.9 71.4,142.8 71.9,144.3 72.3,141.6 72.8,145.3 73.3,142.5 73.7,144.2 74.2,143.1 74.7,144.5 75.2,141.5 75.6,143.4 76.1,142.1 76.6,142.6 77.1,143.7 77.5,140.2 78,142.6 78.5,139.4 79,142.2 79.4,140.9 79.9,143.9 80.4,142.5 80.9,144.4 81.4,142.7 81.9,145.5 82.3,143.7 82.8,146.1 83.3,142.8 83.8,147.7 84.2,144.7 84.7,146.8 85.2,145.6 85.7,144.6 86.1,147.6 86.6,145.2 87.1,146.3 87.5,147.5 88,146.6 88.5,146 89,149.5 89.5,145.1 90,146.6 90.4,144.4 90.9,145.7 91.4,142 91.9,145 92.4,143.1 92.8,144.3 93.2,144.4 93.7,141.9 94.1,145.1 94.5,139.2 95,144.7 95.4,139.9 95.8,141.9 96.2,138.8 96.7,140.6 97.1,137.6 97.5,139.8 97.9,138.8 98.3,139.6 98.7,138.9 99.1,139.8 99.6,140.3 100,142.6 100.4,141.4 100.8,143.6 101.2,141.7 101.7,144.5 102.2,143.5 102.7,145 103.2,144.5 103.6,143.1 104.1,147.9 104.6,144.9 105.1,146.9 105.6,146 106.1,147.8 106.6,146.1 107,147.6 107.5,145.7 108,146.7 108.5,147.1 108.6,143.9 108.6,145 108.7,144 108.7,143.1 108.8,144.7 108.9,141.9 108.9,141.4 109,142.5 109,140.1 109.1,140.3 109.2,141.9 109.2,140.8 109.3,138.3 109.3,140.4 109.4,137.9 109.5,139.4 109.5,136.3 109.6,138 109.6,138.2 109.7,134.6 109.8,136.6 109.8,134.8 109.9,136.4 109.9,133.8 110,134.8 110,134.4 110,132.8 110.1,134 110.1,131.5 110.1,133.6 110.1,130.6 110.1,132.9 110.2,128.5 110.2,131.1 110.2,128.7 110.2,129.4 110.2,127.5 110.3,129 110.3,124.6 110.3,128.1 110.3,126.2 110.3,126.4 110.4,127 110.4,125 110.4,126.1 110.4,123.6 110.5,123.4 110.5,126.5 110.5,122 110.5,123.9 110.5,119.6 110.6,123.7 110.6,120.1 110.6,122 110.6,119.6 110.6,120.3 110.7,119.3 110.7,121.8 110.7,116.5 110.7,119.9 110.7,120.9 110.8,118.9 110.8,121.8 110.8,120.3 110.8,122 110.8,120.5 110.9,123.6 110.9,122.4 110.9,123.5 110.9,122.9 110.9,125.2 111,123.1 111,125.7 111,124.1 111,127.2 111.1,125.2 111.1,128 111.1,124.5 111.1,130.9 111.1,126.6 111.2,128.9 111.2,128 111.2,129.9 111.2,128.5 111.2,131.8 111.3,132.2 111.3,127.9 111.3,132.9 111.3,128.8 111.3,133.2 111.4,129.8 111.4,134.8 111.4,133.5 111.4,137.2 111.5,134.2 111.5,132.1 111.5,138.9 111.5,135.3 111.6,136.9 111.6,134.8 111.6,140.1 111.6,135.8 111.7,138.4 111.7,142.6 111.7,136.6 111.8,142.2 111.8,140.1 111.8,141.3 111.8,140.3 111.9,140.9 111.9,140.5 111.9,142.9 112,141.7 112,142.5 112,144.5 112,143.6 112.1,145.3 112.1,144.2 112.1,148 112.1,145.3 112.2,147.6 112.2,146.2 112.4,148.8 112.7,147.5 112.9,149.5 113.2,148.5 113.4,147.6 113.6,150.9 113.9,148.2 114.1,150.6 114.6,150.9 115,149.9 115.5,151.2 115.9,149.2 116.4,146.4 116.8,147.9 117.3,148.8 117.8,147 118.4,149.2 119,147.3 119.5,147.6 120,147.4 120.4,149 120.9,145.5 121.3,150.4 121.8,147.1 122.3,150.9 122.7,150.1 123.2,151.3 123.6,152.1 124,151.3 124.4,152.8 124.8,154.1 125.2,152.7 125.6,154.5 126.1,152.6 126.5,155.1 127,154.5 127.5,151 127.9,154.6 128.4,151.8 128.9,156 129.3,153.1 129.8,154.5 130.3,152.8 130.7,153.7 131.2,152 131.7,154.3 132.1,152.1 132.6,153.6 133.1,154.6 133.6,152.4 134.1,154.7 134.6,153.6 135.1,155.8 135.6,156.9 136.1,153.7 136.6,156.9 137,154.8 137.5,155.6 137.9,152.2 138.4,155.1 138.9,153.8 139.3,155.7 139.8,151.6 140.2,154.8 140.7,153.1 141.2,153.7 141.6,150.8 142.1,154.6 142.6,152.1 143,153.2 143.5,151.7 143.9,150.6 144.4,153 144.9,149.1 145.3,152 145.8,150 146.3,152.4 146.7,149.9 147.2,153.5 147.6,149.7 148.1,151.7 148.6,151.5 149,149.5 149.5,151.4 149.9,152 150.4,150.3 150.9,151.9 151.3,149.8 151.8,150.8 152.3,150.3 152.7,151.7 153.2,151.8 153.6,150.1 154.1,150.7 154.6,151.5 155,149.8 155.5,151.3 155.9,149.5 156.4,151.5 156.9,149.3 157.3,153.6 157.8,149.3 158.3,150.6 158.7,149.4 159.2,151 159.6,149.4 160.1,150.1 160.6,148.9 161,150.7 161.5,151.2 162,148.2 162.4,150.3 162.9,148.2 163.3,149.7 163.8,148.7 164.3,150.4 164.7,148.3 165.2,150.2 165.7,149.2 166.1,149.8 166.6,150.7 167,149.1 167.5,151.7 168,148.8 168.4,150.7 168.9,150 169.3,147.9 169.8,149.6 170.3,147.9 170.7,150 171.2,148 171.7,150.8 172.1,148.8 172.6,148 173,152 173.5,149.9 174,149 174.4,149.6 174.9,148.3 175.3,149.6 175.8,148.7 176.3,147.9 176.7,150.1 177.2,148.1 177.6,150 178.1,146.1 178.5,149.2 179,148.5 179.5,150.4 179.9,148.4 180.4,149.9 180.8,148.4 181.3,150.4 181.7,147.4 182.2,148.4 182.6,147.7 183.1,147.5 183.6,148.3 184,147.4 184.5,148.1 184.9,144.5 185.4,149.9 185.8,146.8 186.3,148.5 186.8,146.3 187.4,145 187.9,146.4 188.5,145.1 189,144.4 189.1,145.6 189.1,143.5 189.2,144.1 189.2,142.2 189.3,143.6 189.3,142.1 189.4,142.2 189.4,139.9 189.5,141.7 189.5,140.3 189.6,141.3 189.6,139 189.7,139.3 189.7,137.7 189.8,139.6 189.8,138.8 189.9,137 189.9,137.7 190,134.9 190,136.4 190.1,133.9 190.1,135 190.2,133.3 190.2,136.9 190.3,134 190.3,136.2 190.4,133.5 190.4,137.9 190.5,135.7 190.5,134.3 190.6,138.6 190.6,138.7 190.6,137.5 190.7,140.2 190.7,139.2 190.8,141.7 190.8,139.6 190.9,143.1 190.9,139.6 191,143.1 191,141.3 191,143.9 191.1,143.2 191.1,146.5 191.2,144.2 191.2,145.7 191.3,144.3 191.3,148.6 191.4,144.9 191.4,148.5 191.8,146.4 192.3,147.2 192.8,146.7 193.2,149.9 193.7,145.7 194.1,147 194.6,150.8 195,147.8 195.5,149.3 195.9,147 196.3,149.9 196.8,146.3 197.2,150.3 197.7,148.5 198.2,150.2 198.6,147 199.1,150 199.5,148.9 200,148.9 200.4,150.5 200.9,150.1 201.3,148.3 201.8,152.3 202.3,147.8 202.7,151.6 203.2,149.3 203.6,151.7 204.1,152.1 204.6,150.1 205,150 205.5,152 206,150.9 206.4,152.1 206.9,150 207.3,152.1 207.8,150.3 208.3,151.9 208.7,149.9 209.2,152.3 209.6,150.9 210.1,153.4 210.6,151.7 211,149.9 211.4,151.9 211.9,149.8 211.9,149.3 212,148.6 212,151.9 212,145.9 212,149.2 212.1,148.4 212.1,147.7 212.1,144.3 212.2,146.6 212.2,144.9 212.2,146.9 212.2,144.3 212.3,146.6 212.3,143.8 212.3,146.5 212.4,143 212.4,141.7 212.4,143.7 212.4,141.7 212.5,143.4 212.5,140.3 212.5,142.6 212.6,140.6 212.6,139.5 212.6,143.3 212.7,143.6 212.7,145.1 212.7,143.4 212.8,145 212.8,145.2 212.8,144.4 212.9,145.6 212.9,147.5 212.9,145.4 213,147.5 213,147.5 213,148.8 213.1,147.5 213.1,150.1 213.1,152.8 213.2,149.3 213.2,150.8 213.7,149.6 214.1,148.4 214.6,151.2 215,149.7 215.5,153.6 215.9,149.9 216.4,151.6 216.8,151 217.3,152.2 217.7,152.3 218.2,150.2 218.6,152.5 219.1,151.3 219.6,152.6 220,151.1 220.5,153.2 220.9,151.6 221.4,153 221.8,151.5 222.3,153.6 222.7,154.6 223.2,151.2 223.6,153.3 224.1,152.1 224.5,154.8 225,152.8 225.5,154.2 225.9,153.5 226.4,152 226.9,152.8 227.4,151.6 227.8,153.9 228.3,152.3 228.8,153.4 229.2,151.6 229.7,154.5 230.2,151.9 230.7,150.9 231.1,152.3 231.6,149.5 232.1,153.7 232.6,152.9 233,149.7 233.5,154.3 233.5,150 233.6,152.2 233.6,153 233.7,148.5 233.7,148.7 233.8,150.2 233.8,147.9 233.9,148.5 233.9,147.5 234,146.8 234,147 234.1,149.3 234.1,145.1 234.2,145.8 234.2,144.5 234.2,146.3 234.3,145.3 234.3,149.2 234.4,149.9 234.4,146.1 234.5,148.9 234.5,147.4 234.6,149.2 234.6,149 234.7,150.5 234.7,150.3 234.8,149.8 234.8,151.5 234.9,150.1 234.9,151.5 235.4,154.2 235.8,153.3 236.3,148.8 236.8,152 237.2,152.9 237.7,151.5 238.1,149.9 238.6,154.4 239.1,153.1 239.5,152.9 240,151.7 240.5,153.8 240.9,151.5 241.4,153.6 241.9,151.8 242.3,153.4 242.8,154.1 243.2,154.4 243.7,151.6 244.2,154.4 244.6,152.4 245.1,152.7 245.6,155.1 246,150.5 246.5,156.4 247,153 247.4,154.2 247.9,152.7 248.3,151.6 248.8,156.5 249.3,152.3 249.7,154.3 250.2,152.8 250.7,154.4 251.1,152.8 251.6,155.2 252,153.6 252.5,155.4 252.9,152 253.4,154.6 253.8,153.4 254.3,156.2 254.7,154.9 255.2,153.1 255.6,154.9 256.1,152.2 256.5,155.8 257,155.9 257.4,154.2 257.9,153.6 258.3,156.8 258.8,154.4 259.2,156 259.7,154.2 260.1,155.8 260.6,154.6 261,156.1 261.5,154.4 261.9,156.8 262.4,152.7 262.8,154.4 263.3,157.9 263.7,154.5 264.2,156.6 264.6,154.3 265.1,155.4 265.5,153.6 266,156.3 266.4,156.4 266.9,154 267.3,155.3 267.8,155.9 268.3,154.6 268.7,155.8 269.2,154.4 269.6,156.6 270.1,156.8 270.5,155 271,154.1 271.4,156.6 271.9,154.8 272.4,156.5 272.8,157.1 273.3,152.2 273.7,155.8 274.2,154.8 274.6,156.9 275.1,154.8 275.5,155.8 276,156.7 276.5,153.7 276.9,152.3 277.4,156.3 277.8,154.9 278.3,156.2 278.7,156.1 279.2,154.7 279.6,156.5 280.1,154.1 280.6,156.7 281.1,152.7 281.6,155 282.1,154.3 282.6,153.7 283.1,154.5 283.6,153.8 283.7,154.7 283.7,155.1 283.8,150 283.9,153 284,150.6 284,152.3 284.1,150 284.2,152.9 284.2,148.5 284.3,149.3 284.4,150.1 284.5,148.3 284.5,151.1 284.6,150.2 284.7,148.4 284.8,151.3 284.9,153.2 284.9,152.1 285,154.5 285.1,152.7 285.6,154.4 286.1,152.9 286.5,154.5 287,153 287.5,154.6 287.9,151.3 288.4,154.9 288.9,153.6 289.4,155.4 289.8,151.1 290.3,154.3 290.7,153.1 291.2,151.2 291.7,153.6 292.1,150.9 292.6,155.4 293,152.9 293.5,152.8 294,155.3 294.4,153.5 294.9,155.6 295.4,153.3 295.8,156.8 296.3,154.8 296.7,154 297.2,155.7 297.7,155 298.1,153.8 298.6,156.4 299,154.3 299.5,156 300,153.6 300.4,154.9 300.9,153.9 301.3,155.1 301.8,152.9 302.2,156.5 302.7,151.8 303.1,155.6 303.6,156.1 304,155.6 304.5,154.5 304.9,156.6 305.4,153.9 305.8,158.3 306.3,154.3 306.7,156.3 307.2,154.9 307.6,156.6 308.1,154.3 308.5,158.5 309,157.1 309.4,157.6 309.9,155.8 310.3,158 310.8,154.9 311.2,159.4 311.7,155.2 312.1,158.6 312.6,154.9 313,156.6 313.5,155.4 314,157.2 314.4,157.4 314.9,156.3 315.3,157.3 315.8,155.4 316.3,157.4 316.7,155.7 317.2,157 317.6,155.7 318.1,157.7 318.6,155.5 319,157.2 319.5,155.9 319.9,155.6 320.4,159.8 320.9,157.4 321.3,154.3 321.8,157.4 322.2,155.5 322.7,157.2 323.1,156.5 323.6,159.4 324.1,156.5 324.5,157.1 325,155.7 325.4,160.3 325.9,155 326.4,160.2 326.8,155.6 327.3,159.4 327.7,155.2 328.2,158.6 328.7,154.7 329.1,160.4 329.6,156 330,157.5 330.5,157.3" fill="none" stroke="#0a0ad2" stroke-width="1.2" stroke-linejoin="round" />
<polyline points="21.8,107.8 22,111 22.3,106.6 22.5,109.9 22.8,106.1 23,107.8 23.3,107.8 23.5,105.3 24,107.4 24.5,104.8 25,105.9 25.5,103.6 26,107 26.5,102.5 27,104.6 27.4,101.5 27.9,105.4 28.4,103.6 28.8,106.4 29.2,103.2 29.7,106.9 30.2,105.1 30.6,106.5 31.1,107.6 31.5,105.8 32,106.2 32.5,106.6 33,106.9 33.4,105.8 33.9,107.5 34.4,106.7 34.9,104.3 35.3,106.1 35.8,104 36.3,107.8 36.8,103.1 37.3,106.4 37.8,105.2 38.2,106.8 38.7,104.8 39.2,105.8 39.7,104.4 40.2,105.8 40.7,104.2 41.2,106 41.7,104.2 42.2,106.3 42.6,105 43.1,108 43.6,103.8 44.1,109.4 44.6,106.7 45.1,108.8 45.6,107 46,109.3 46.5,107.4 47,110.6 47.5,110.4 48,110.9 48.5,109.3 48.9,110.6 49.4,110.1 49.9,109.6 50.4,109.7 50.9,111.5 51.3,109.9 51.8,112.2 52.3,109.3 52.8,109.1 53.3,112 53.8,110.1 54.2,112.2 54.7,109.1 55.2,111.7 55.7,109.7 56.2,111.6 56.6,110.4 57.1,111.3 57.6,111.7 58.1,109.9 58.6,110.4 59.1,109.5 59.5,109.4 60,110.1 60.5,109 60.6,109.2 60.6,109.9 60.7,107.2 60.7,108 60.8,106.8 60.8,108 60.9,104.7 60.9,107.9 61,104.4 61.1,105.3 61.1,104.5 61.2,102.7 61.2,104.5 61.3,102 61.3,105.2 61.4,100.7 61.4,103 61.5,100.2 61.6,101.8 61.6,99.3 61.7,101.1 61.7,98.1 61.8,99.5 61.8,97 61.9,100.1 61.9,96.9 62,97.5 62.1,96.2 62.1,96.5 62.2,94.7 62.3,96 62.4,93.8 62.5,95.9 62.5,93.1 62.6,93.2 62.9,93.7 63.3,93.1 63.6,95.8 63.6,95.1 63.7,93.9 63.7,94.6 63.8,99 63.8,95.6 63.9,98.3 63.9,96.2 64,98.8 64,98 64.1,99.3 64.1,98.3 64.2,100.5 64.2,98.9 64.3,100.9 64.3,98.7 64.4,102.6 64.4,101 64.5,103.6 64.5,101.6 64.6,103.1 64.6,105.2 64.7,103.6 64.7,105.9 64.8,104.9 64.8,106.3 64.9,104.8 64.9,108.5 65.4,106.1 65.9,109 66.4,107.5 66.9,110.1 67.3,106.5 67.8,107.3 68.3,109 68.8,113.4 69.3,108.7 69.8,110 70.3,112.1 70.8,110.3 71.3,111.3 71.8,109 72.3,109.7 72.8,111.7 73.3,108.5 73.8,108.4 74.3,109.6 74.8,106.8 75.2,107.6 75.7,108.3 76.2,106.5 76.7,107.1 77.2,105 77.7,106.6 78.2,103.9 78.7,105.3 79.2,105.5 79.7,103.2 80.2,104.4 80.7,101.9 81.2,102.5 81.7,106.6 82.2,105.4 82.7,103.9 83.2,105.8 83.7,104 84.2,107 84.7,105.2 85.2,107.4 85.7,105.9 86.2,104.5 86.6,108.3 87.1,108.2 87.6,106.8 88.1,108.9 88.6,107.8 89.1,109.6 89.5,106.8 90,108.8 90.4,106.7 90.9,105.8 91.2,107.9 91.5,105.4 91.8,105.7 92.2,103.6 92.5,104.4 92.8,102.8 93.1,106.7 93.3,102.1 93.4,99.7 93.6,102.7 93.7,100.1 93.9,102.2 94,97.8 94.2,101 94.4,97.6 94.5,101.1 94.7,97.2 94.8,99.7 95,96.3 95.2,98.2 95.3,95.7 95.5,97.5 95.6,94.7 95.8,96 95.9,94.3 96.1,95.2 96.2,91.3 96.2,94.5 96.3,92.6 96.4,93.9 96.4,91.4 96.5,92.4 96.5,88.5 96.6,93.3 96.7,89 96.7,90.3 96.8,89.2 96.9,89.7 96.9,87.5 97,88.2 97,86.3 97.1,85.7 97.2,87.5 97.2,85 97.3,86.5 97.4,85.1 97.4,85.1 97.5,83.1 97.5,86.5 97.6,82.4 97.7,84.7 97.7,80.2 97.8,83.2 97.9,81.2 97.9,82.2 98,80.4 98,81.1 98.1,76.5 98.2,77.9 98.2,79.6 98.3,76.8 98.4,79.2 98.6,75.9 98.7,77.1 98.8,75 98.9,73.4 99.1,76.6 99.2,73.7 99.3,73.6 99.5,73.4 99.6,76.3 99.7,71.8 99.9,72.8 100,70.6 100.1,72 100.2,69.8 100.4,70.8 100.5,69.2 100.7,71.6 100.8,69.7 101,71.9 101.2,70.6 101.4,73.3 101.6,71.6 101.7,74.9 101.9,71.9 102,74.6 102,74.2 102.1,76.5 102.2,74.4 102.2,76.5 102.3,76.5 102.4,78.4 102.4,76.4 102.5,79.7 102.6,77.5 102.6,79.4 102.7,77.6 102.8,82.7 102.9,77.5 103,81.4 103,79.1 103.1,82.9 103.2,79.6 103.3,84.5 103.4,82.6 103.5,85.9 103.6,83.9 103.7,85.3 103.8,84.4 103.8,83.7 103.9,86.4 104,86.4 104.1,87.9 104.5,86.9 104.8,89.2 105.2,87.8 105.6,89.6 105.9,89.6 106.3,89.2 106.5,91.4 106.8,89.9 107,92.6 107.3,90.8 107.5,93.5 107.8,91.6 108,92.5 108.3,92.7 108.5,95.3 108.7,93.5 108.8,96.9 109,94.9 109.1,97.5 109.3,96.5 109.4,97.6 109.6,96.8 109.8,99.5 109.9,100.1 110.1,100.3 110.2,98.8 110.4,101.4 110.5,99.9 110.7,102.1 110.9,98.4 111.1,99.7 111.3,101.4 111.5,97.7 111.7,97.5 111.9,98.8 112.1,97.1 112.3,97.9 112.5,96.6 112.7,96.7 112.9,93.2 113,99.2 113.1,96 113.2,95.5 113.4,96.7 113.5,98.6 113.6,95.9 113.7,100.3 113.8,99.2 113.9,101 114.1,99.9 114.2,102.2 114.3,100 114.4,102.5 114.6,101.8 114.9,104 115.1,100.3 115.4,103.8 115.6,103.2 115.9,105.4 116.1,104.1 116.4,108.2 116.6,105.5 117.1,106.2 117.6,107.2 118,105.7 118.5,107.6 119,107 119.5,108.2 120,107.9 120.4,107.9 120.9,109.4 121.4,107.3 121.8,108.3 122.3,110.3 122.8,108.8 123.3,110.7 123.7,110.4 124.2,108.3 124.7,110.8 125.1,108.8 125.6,110.7 126.1,109.8 126.5,111.6 127,110.1 127.5,109.9 127.9,111.3 128.4,110.3 128.9,111.6 129.3,110.7 129.8,113.2 130.3,111.9 130.7,113.8 131.2,109.8 131.7,113.4 132.1,111.7 132.6,114.6 133.1,112.7 133.5,113.9 134,112.6 134.5,111.7 135,113.9 135.4,111.8 135.9,113.6 136.4,112.4 136.8,112.7 137.3,111.5 137.8,115 138.2,109 138.7,115.3 139.2,111.1 139.7,113.5 140.1,108.9 140.6,114.3 141.1,111.1 141.6,112.1 142.1,108.6 142.6,111.1 143,110.8 143.5,108.3 144,109.7 144.5,107.3 145,104.8 145.5,108.5 146,106.3 146.5,106.7 147,104.1 147.5,106.4 148,104.1 148.5,104.5 148.8,106.8 149.1,103.9 149.5,104.1 149.8,108 150.1,104.4 150.4,104.6 150.7,108.7 151,106.6 151.4,109.9 151.7,107.9 152,110.1 152.5,108.5 153,111.8 153.4,109.9 153.9,111 154.4,110.1 154.9,111.9 155.3,112.1 155.8,110.3 156.3,112.3 156.8,110.6 157.2,112.5 157.7,113.3 158.2,111.8 158.7,111.6 159.1,113.2 159.6,109 160.1,112.7 160.5,110.3 161,113.3 161.5,111.3 161.9,112.8 162.4,112.1 162.9,114.1 163.3,113.7 163.8,111.8 164.3,113.9 164.7,111.4 165.2,114.3 165.7,112.5 166.1,113.2 166.6,112.7 167.1,113.9 167.5,110.4 168,113.3 168.4,110.5 168.9,111.5 169.4,111.3 169.8,113.6 170.3,112.3 170.8,112.9 171.2,111.4 171.7,113.3 172.1,111.5 172.6,113.2 173.1,111.4 173.5,115 174,111.6 174.5,113.9 174.9,111.8 175.4,112.9 175.9,111 176.3,112.1 176.8,112.9 177.2,111.5 177.7,112.8 178.2,111.1 178.6,112.5 179.1,112 179.6,112.7 180,110.8 180.5,112.5 180.9,111.6 181.4,113.6 181.9,111.2 182.3,113.4 182.8,111.7 183.3,110.8 183.7,113.7 184.2,110.1 184.7,112.5 185.2,110.1 185.6,112.8 186.1,109.1 186.6,110.9 187.1,107.4 187.5,110.7 188,111.3 188.3,108.3 188.6,107.9 188.8,108.5 189.1,105.2 189.4,109.3 189.7,105.7 189.9,106.2 190.2,105.8 190.5,103.8 190.8,104.4 191,105.1 191.3,102.3 191.6,101.8 192,105.1 192.4,103 192.8,104 193.2,105.6 193.5,104.3 193.9,107.6 194.3,105.2 194.7,108.5 195.1,106.2 195.6,109.2 196.1,107.4 196.5,108.2 197,106.3 197.5,110.3 198,107.2 198.5,109.6 199,109.7 199.4,107.7 199.9,108.8 200.4,107 200.9,108.9 201.4,107.2 201.9,108.3 202.4,108.9 202.9,106.2 203.4,108 203.9,106.1 204.2,108.3 204.5,105.1 204.8,104.4 205.1,105.6 205.3,103.4 205.6,105.4 205.9,102.6 206.2,103.9 206.5,101.6 206.8,103.1 207.1,102.1 207.4,103.9 207.7,103.8 208,105.4 208.3,104 208.6,105.9 208.9,105.7 209.2,106.5 209.7,105.9 210.2,107 210.6,106.8 211.1,107.1 211.6,106.2 212.1,107.9 212.6,106.5 213.1,108.3 213.5,106.6 214,109 214.5,106.1 215,109.6 215.4,107.1 215.9,110.6 216.4,107.7 216.8,109 217.3,107.4 217.8,108.6 218.2,109.6 218.7,108.4 219.2,110.6 219.6,107.7 220.1,107.3 220.6,106.9 221,112.1 221.5,107.3 222,108.2 222.5,106.9 222.9,109.7 223.4,107.6 223.9,109.5 224.4,107.6 224.8,107.3 225.3,109.2 225.8,106.8 226.3,106.7 226.8,109.4 227.2,109.1 227.7,105.5 228.2,107.8 228.4,109.3 228.7,107.5 228.9,109.3 229.1,108.9 229.4,110.4 229.6,109.1 229.9,111.8 230.1,111 230.3,112.1 230.6,111.4 230.8,113.7 231.3,111.9 231.7,114.3 232.2,112 232.6,114.8 233.1,110.7 233.6,114.7 234,113.2 234.5,114.3 234.9,112.7 235.4,115 235.9,113.4 236.3,114.8 236.8,113.1 237.3,115.3 237.7,113.6 238.2,115.3 238.6,113.6 239.1,115.1 239.6,115.5 240,114.1 240.5,116.3 240.9,116.2 241.4,116.5 241.9,113.1 242.3,116.7 242.8,115.1 243.2,116.2 243.7,115.1 244.1,115.7 244.6,114 245,117 245.5,114.8 245.9,116.3 246.4,113.1 246.8,116.5 247.3,113.8 247.7,118.9 248.2,116.1 248.6,114.9 249.1,116.3 249.5,115.2 250,115.8 250.4,114.7 250.9,116.2 251.3,115.4 251.8,116.1 252.2,115.1 252.7,115 253.1,115.8 253.6,114 254,113.1 254.5,118.3 254.9,115.3 255.4,116.2 255.8,115.1 256.3,116.2 256.7,115 257.2,116.8 257.6,114.3 258.1,116.9 258.5,114.9 259,115.6 259.5,114.6 259.9,116.7 260.4,112.1 260.8,116.1 261.3,114.3 261.7,115.7 262.2,115.1 262.6,114.7 263.1,116.5 263.5,113.2 264,116.9 264.4,116.3 264.9,114.5 265.3,115.5 265.8,112.3 266.2,116.3 266.7,114.5 267.1,115.8 267.6,113.3 268,115.3 268.5,111.4 268.9,115.6 269.4,113.8 269.8,116.8 270.3,113.9 270.7,115.9 271.2,115.2 271.6,114.2 272.1,115.6 272.5,114.1 273,114.5 273.4,113.4 273.9,115.7 274.3,113.2 274.8,114 275.2,115.1 275.7,114.5 276.1,115.1 276.6,111.1 277.1,117.3 277.5,116.1 278,113.4 278.4,114.3 278.9,113.5 279.3,114.2 279.8,113.1 280.2,116.3 280.7,112.2 281.1,115.7 281.6,112.8 282.1,112.9 282.5,113.7 283,109.9 283.4,115.7 283.9,112.5 284.3,116.5 284.8,112 285.2,114.5 285.7,111.9 286.2,113.3 286.6,112.7 287.1,114.4 287.5,115.5 288,113.1 288.4,112.7 288.9,113.1 289.3,111 289.8,115 290.2,112.6 290.7,115.4 291.2,110.9 291.6,115.3 292.1,111.6 292.6,113.6 293,109.8 293.5,114.8 294,111.4 294.5,113.2 294.9,111.5 295.4,113.8 295.9,110 296.3,113.3 296.8,110 297.3,113.2 297.8,111.6 298.2,112.9 298.7,111.5 299.2,114.4 299.7,111.2 300.1,114 300.6,112.2 301.1,114 301.6,113.3 302,114.3 302.5,111.3 303,114.4 303.5,115.6 303.9,115.7 304.4,113.5 304.8,115.4 305.3,113.1 305.7,115.8 306.2,113.7 306.7,115.9 307.1,115.2 307.6,116.1 308,113.8 308.5,115.7 308.9,115.1 309.4,111.8 309.8,115.6 310.3,114.2 310.8,115.4 311.2,113.8 311.7,115.4 312.1,114 312.6,116.5 313,114.1 313.5,115.7 314,114 314.4,116 314.9,114.3 315.3,118.5 315.8,117.4 316.3,114.2 316.7,118.4 317.2,113.1 317.6,116.8 318.1,118.9 318.6,115.4 319,117.8 319.5,114.7 319.9,116.1 320.4,114.6 320.9,115.4 321.3,116.4 321.8,114.9 322.2,116.4 322.7,113.6 323.1,117.1 323.6,114.7 324.1,116 324.5,115.5 325,116.7 325.4,115 325.9,116.3 326.4,115 326.8,117.2 327.3,114.1 327.7,116.3 328.2,115.2 328.7,117.5 329.1,114.3 329.6,117.4 330,114.9 330.5,116.2" fill="none" stroke="#1e8282" stroke-width="1.2" stroke-linejoin="round" />
<polyline points="21.5,86.5 21.8,85.3 22.1,86.9 22.3,82.4 22.6,84.8 22.9,81.9 23.4,83.8 23.9,82.4 24.4,81.8 24.9,83.5 25.4,81.5 25.9,83.6 26.4,81.7 26.9,83.6 27.4,81.5 27.9,83.6 28.4,81.3 28.8,81.7 29.3,83.3 29.8,82.2 30.3,83.4 30.8,82.6 31.3,83.8 31.8,81.6 32.3,83.1 32.8,81.8 33.2,82.2 33.7,80.4 34.2,80.8 34.7,83.7 35.2,77.9 35.7,82.2 36.2,81 36.8,82.4 37.3,81.5 37.8,82.7 38.3,82 38.7,83.5 39.2,82.3 39.7,83.7 40.1,81.7 40.6,83.7 41.1,83.3 41.5,84.9 42,84.5 42.5,83.2 42.9,86 43.4,84.1 43.9,84.1 44.3,86.1 44.8,84.6 45.2,87.8 45.7,86.3 46.1,87.7 46.6,86.8 47.1,88.3 47.6,86.2 48.1,89.4 48.6,85.4 49,90.2 49.5,86.9 50,89.4 50.5,87.6 51,88.5 51.5,86.9 52,90.5 52.5,86.9 53,87.3 53.4,88.7 53.9,86.2 54.4,87.9 54.9,90.6 55.4,88.8 55.9,87.7 56.3,88.2 56.8,87 57.2,88.2 57.7,86.7 58.2,85.6 58.6,87 59.1,84.6 59.2,85.8 59.3,84.3 59.4,85.7 59.6,82 59.7,85.2 59.8,84 59.9,82.3 60,81.9 60.1,81.1 60.2,80.1 60.4,82.1 60.5,81.3 60.6,80.4 60.7,79.2 60.8,77.6 60.9,79.8 61,78.7 61.1,76.2 61.3,76.8 61.4,75.8 61.5,77 61.6,75.1 61.8,77.6 61.9,75.7 62.1,76.8 62.2,78.9 62.4,76.3 62.5,80.8 62.7,78.4 62.8,80 63,79 63.1,81 63.3,83.5 63.6,81.1 63.8,83.3 64.1,80.5 64.4,84.8 64.7,84.2 64.9,83.2 65.2,85.2 65.5,82.5 65.7,85.7 66,85 66.5,85.1 67,87.5 67.5,87.7 68,85.8 68.5,87.7 69,86.9 69.5,86.6 70,88.5 70.5,86.7 71,88 71.5,84.4 71.9,84.6 72.4,86.4 72.9,85.1 73.4,86.1 73.9,84.8 74.4,81.8 74.9,86 75.4,82.2 75.9,84.5 76.4,81.2 76.9,83.7 77.4,81.9 77.9,84.2 78.4,82.1 78.9,84.6 79.5,83.5 80,84.9 80.5,83.7 81,85.5 81.5,83.8 82,83.4 82.5,86.4 83,85.4 83.5,83.7 84,86.4 84.5,84.6 85,87.1 85.5,84.3 86,87.4 86.5,86.5 87,84.8 87.5,86.3 88,86.1 88.5,82.3 89,85.6 89.5,84.2 89.9,85.9 90.4,83.5 90.9,84.2 91.4,82.2 91.9,81.6 92.4,82.7 92.9,81.2 93.4,82.9 93.9,78.5 94,80.9 94.1,77.5 94.2,81.1 94.2,78.9 94.3,79.8 94.4,76 94.5,79.5 94.6,76.1 94.7,78.1 94.8,78 94.9,76.7 95,74.7 95,74.2 95.1,74.6 95.2,74.5 95.3,70.7 95.5,73.7 95.7,72 95.9,74.1 96,71.3 96.2,71.9 96.4,70.4 96.6,71.1 96.8,69.6 96.9,72.1 97,69.6 97.2,68.3 97.3,67.1 97.4,70.9 97.5,65.8 97.5,68 97.6,64.1 97.6,65 97.6,66.3 97.7,65.3 97.7,62.5 97.7,64.4 97.8,62.1 97.8,63.2 97.8,62.4 97.9,62.7 97.9,60 97.9,62.1 97.9,59.6 98,60.7 98,59.7 98,60.8 98.1,58.1 98.1,59.1 98.1,57 98.2,57.8 98.2,56.7 98.2,55.6 98.3,57.2 98.3,54.7 98.3,56.2 98.4,55.6 98.4,54 98.5,55.2 98.5,55.5 98.6,51.4 98.6,54.4 98.7,51.4 98.7,52.7 98.8,48.6 98.8,52 98.8,46.6 98.9,50.7 98.9,47.8 99,50.1 99,45.9 99.1,48.3 99.1,44.5 99.2,48.3 99.2,46.9 99.3,44.5 99.3,47.1 99.4,46.3 99.4,44.5 99.5,45.3 99.5,44 99.6,46.2 99.6,47.3 99.7,45.1 99.8,49.4 99.8,48.8 99.9,46.9 100,48.2 100,49.5 100.1,48.3 100.1,50.6 100.2,49.5 100.3,52.3 100.3,51.2 100.4,51.9 100.4,51.8 100.5,52.4 100.6,53.4 100.7,53 100.7,55.1 100.8,53.7 100.9,54.1 101,56.3 101,55.2 101.1,57.5 101.2,56 101.3,58.1 101.4,54.9 101.4,59.5 101.5,58.8 101.6,60.4 101.7,58.9 101.7,60.7 101.8,60.2 101.9,63.8 102,61.4 102.1,61.5 102.2,63.2 102.3,61.8 102.4,64 102.5,64.4 102.6,63.2 102.7,65.2 103.2,63.5 103.6,64.1 104.1,65.8 104.3,64.4 104.5,65.9 104.7,65.7 104.9,66.7 105.1,63.6 105.3,68.6 105.7,67.3 106,69.1 106.4,68.7 106.8,71.7 106.9,70.6 107,70 107.2,71.3 107.3,70.7 107.4,73.3 107.5,71.9 107.7,76.1 107.8,73 108.3,74.9 108.7,73.8 109.2,74.8 109.5,73.5 109.7,76.1 110,77.2 110.2,76 110.5,77.7 110.7,79 111.2,78.7 111.7,75.4 112.2,74.9 112.3,77.3 112.4,78.4 112.5,76.3 112.6,79.3 112.6,75 112.7,81 112.8,79.6 112.9,80.1 113.1,78.4 113.2,79.3 113.4,83.3 113.6,78.3 113.7,83.4 113.9,81.4 114.1,84.9 114.3,82.2 114.4,84.4 114.6,83.1 114.8,87.1 114.9,81.9 115.1,86.4 115.6,89.1 116.2,86 116.8,86.5 117.3,88.3 117.8,83.9 118.3,89 118.8,83.3 119.3,87.7 119.7,85.2 120.2,85.6 120.7,88 121.2,86 121.7,87.8 122.2,83.5 122.7,88 123.2,85.9 123.7,87.9 124.1,87.1 124.6,88.9 125.1,87.5 125.6,89.1 126.1,87.2 126.6,88.7 127.1,87.1 127.7,87.6 128.2,88.7 128.7,87.7 129.1,88.4 129.6,89.4 130.1,85.5 130.5,89.6 131,85.8 131.5,89 131.9,88.2 132.4,88.9 132.9,90.2 133.3,87.9 133.8,90.3 134.3,88.5 134.7,90.2 135.2,88.8 135.7,89.7 136.1,85.8 136.6,85.9 137.1,89 137.5,87.8 138,88.7 138.5,87.5 138.9,88.6 139.4,86.8 139.9,89.4 140.3,85.7 140.8,87.8 141.3,85.4 141.7,88.4 142.2,85.2 142.7,86.4 143.2,84.5 143.6,82.4 144.1,85.3 144.6,84.1 145.1,87.4 145.6,83.9 146.1,84.6 146.5,83.2 147,80.6 147.5,83.1 148,82.9 148.5,83.3 148.9,84.9 149.4,81.8 149.9,85.2 150.4,81.9 150.9,87.2 151.4,85.9 151.8,84.3 152.3,87.1 152.8,85.8 153.3,87.4 153.7,87.9 154.2,86 154.7,88.6 155.1,84.9 155.6,88.3 156.1,86.7 156.5,89 157,87.3 157.5,87.2 157.9,89.4 158.4,87.6 158.9,89 159.3,88.2 159.8,88.2 160.3,90.9 160.7,86.4 161.2,91 161.7,88.4 162.2,90.3 162.6,87.6 163.1,91.3 163.6,88.8 164.1,91.9 164.5,90.6 165,88.3 165.5,91.1 166,88.8 166.4,91.2 166.9,90.8 167.4,87.1 167.9,88.7 168.4,88.6 168.9,90.4 169.4,87.6 169.9,88.7 170.4,89 170.5,87.4 170.6,90.5 170.7,85.4 170.8,86.6 170.9,84.7 171,85.7 171.1,84 171.2,84.9 171.3,85 171.4,83.9 171.5,80.5 171.6,82.9 171.7,82.8 171.8,80.3 171.9,80.1 172,82.7 172.1,79.7 172.2,79 172.3,81.4 172.5,80.8 172.6,82.4 172.7,81.5 172.8,84.1 172.9,83.9 173.1,82.2 173.2,85.9 173.3,84.8 173.4,86.8 173.5,84.7 173.7,87 173.8,85.8 173.9,86.1 174.4,88.3 174.8,87.1 175.3,89 175.8,85.6 176.2,89 176.7,87.4 177.2,88.8 177.6,85 178.1,89.7 178.6,87.4 179,89.6 179.5,87.6 180,89.8 180.4,88.6 180.9,89.8 181.4,87.6 181.9,89.5 182.3,86.8 182.8,88.6 183.3,87.4 183.8,90.6 184.3,84.9 184.8,87.6 185.2,85.4 185.7,87.9 186.2,85 186.5,87.7 186.8,85.9 187.2,85.1 187.5,84.3 187.8,84.2 188.1,82.5 188.4,84.1 188.7,82.4 189.1,82.6 189.4,81.3 189.7,82 189.9,79.4 190.2,82.8 190.4,80.3 190.7,83.2 190.9,82.4 191.2,85.1 191.4,83.8 191.7,85.3 191.9,84.2 192.2,87 192.4,85.8 192.9,86.8 193.3,84.8 193.8,86.8 194.3,85.1 194.7,86.4 195.2,83.8 195.7,86.7 196.2,85.1 196.6,86.4 197.1,84.5 197.6,85.3 198,86.6 198.5,83 199,85.7 199.5,84.6 200,85 200.5,84.1 200.9,84.7 201.4,83.3 201.9,83.9 202.4,84.2 202.9,81.7 203.4,83.7 203.9,81.8 204.4,81.8 205,81.4 205.5,77.4 206,80.8 206.5,78.6 206.8,80.8 207.1,80 207.4,82.6 207.7,79.9 207.9,83.1 208.2,80.9 208.5,83.9 208.8,82.1 209.1,84.7 209.6,83.1 210.1,86.4 210.5,81.8 211,85.1 211.5,83.9 212,85.4 212.5,84.1 213,86.3 213.4,85.4 213.9,85.8 214.4,85.8 214.9,85.3 215.4,87.6 215.8,84.3 216.3,87.6 216.8,84.3 217.3,86.9 217.8,85.2 218.2,87.3 218.7,86.1 219.2,85.7 219.7,85.3 220.1,86.5 220.6,85 221,87.1 221.5,83.6 221.9,86.3 222.4,85.6 222.8,87.2 223.3,88.6 223.8,85.4 224.2,85.6 224.7,84.7 225.1,85.5 225.6,84.6 226,83 226.5,83.1 226.9,85.4 227.4,82.6 227.8,86.5 228.1,82.8 228.5,87.4 228.9,85.4 229.2,86 229.6,90 230,87.7 230.4,88.8 230.7,88 231.1,90.8 231.6,90 232,92.1 232.5,89.7 232.9,90.8 233.4,90.1 233.8,89.9 234.3,91.2 234.8,91.3 235.2,90.2 235.7,90.1 236.1,92.7 236.6,91.4 237,88.8 237.5,93 238,90.7 238.4,93.2 238.9,91.2 239.3,92.4 239.8,91.1 240.3,93.6 240.7,93.2 241.2,92.1 241.6,95.1 242.1,91.2 242.6,93.5 243,92.2 243.5,93.5 243.9,91.6 244.4,92.1 244.9,94.2 245.3,92.3 245.8,94.6 246.2,92.4 246.7,95.2 247.2,92.9 247.6,93.8 248.1,92.4 248.5,96.1 249,92.6 249.4,94.4 249.9,92.4 250.4,94.8 250.8,92.1 251.3,93.7 251.7,92.3 252.2,94.6 252.7,92 253.1,94.3 253.6,94.4 254,92.1 254.5,93.8 254.9,92.3 255.4,94.8 255.9,92.4 256.3,92.5 256.8,94.1 257.2,93.3 257.7,95.1 258.2,91.4 258.6,95.2 259.1,93.2 259.5,94.1 260,92.9 260.4,93.7 260.9,93 261.4,95.2 261.8,92.4 262.3,95.1 262.7,92.7 263.2,94.3 263.7,91.5 264.1,93.5 264.6,91.7 265,89.9 265.5,93.5 265.9,92.3 266.4,93.1 266.9,91.2 267.3,92.6 267.8,90.1 268.2,92.3 268.7,89.1 269.2,94.6 269.6,90.7 270.1,93.5 270.5,91.8 271,93.1 271.4,91.3 271.9,92.4 272.3,92.5 272.8,89.9 273.2,93.3 273.7,91.1 274.1,93.1 274.6,91.6 275,92.9 275.5,90.3 275.9,92.3 276.4,90.3 276.8,92.1 277.3,90.6 277.7,90.1 278.2,90.8 278.6,92.3 279.1,90.5 279.5,93 280,92.5 280.5,91.7 280.9,88.3 281.4,91.9 281.8,90.4 282.3,91.9 282.7,89.9 283.2,91.6 283.6,90 284.1,92.4 284.5,87.3 285,94.1 285.5,92.1 285.9,90.4 286.4,90.3 286.8,91.2 287.3,90.9 287.7,89.8 288.2,93.6 288.6,90.4 289.1,91.7 289.5,90.6 290,89.1 290.5,90.8 291,89.3 291.5,90.2 292,87.3 292.5,89.4 293,88.4 293.5,87.4 294,88.7 294.2,86.9 294.5,89.3 294.7,86.9 294.9,87 295.1,84.7 295.4,86.7 295.6,84.9 295.9,87 296.1,85.8 296.4,85.5 296.7,87.8 297,85.2 297.2,86.6 297.5,89.7 298,87.6 298.5,89.9 299,88.8 299.5,91.3 300,88.8 300.5,90.9 301,88.5 301.4,89.8 301.9,91.8 302.4,90.5 302.9,89.7 303.3,93.6 303.8,88.7 304.3,92.3 304.7,91.2 305.2,91.7 305.7,90.1 306.2,92.6 306.6,90.7 307.1,95.3 307.6,91.2 308,91.6 308.5,93.5 308.9,91.9 309.4,93 309.9,91.5 310.3,92.9 310.8,90.2 311.2,91.1 311.7,91.7 312.2,92.9 312.6,92.1 313.1,95.1 313.5,89.9 314,94 314.5,95.1 314.9,91.6 315.4,93.8 315.8,92.7 316.3,93.3 316.8,92.1 317.2,94 317.7,93.3 318.1,91.6 318.6,94.3 319,94.4 319.5,92.3 320,94.9 320.4,93.7 320.9,94.4 321.3,92.5 321.8,95.8 322.3,92.7 322.7,94.5 323.2,92.9 323.6,93.5 324.1,92.1 324.5,94.1 325,91.9 325.5,95.6 325.9,91.6 326.4,95.4 326.8,92 327.3,94.2 327.8,92.3 328.2,94.3 328.7,91.8 329.1,92.3 329.6,92.2 330,93.3 330.5,93" fill="none" stroke="#d81ed8" stroke-width="1.2" stroke-linejoin="round" />
<rect x="591.3" y="23.2" width="10.6" height="135" fill="#d5eaf4"/>
<polyline points="356,10.3 494.5,10.3" fill="none" stroke="#000" stroke-width="1.15"/>
<polyline points="502.5,10.3 642.5,10.3 642.5,234.2 502.5,234.2" fill="none" stroke="#000" stroke-width="1.15"/>
<polyline points="494.5,234.2 356,234.2 356,10.3" fill="none" stroke="#000" stroke-width="1.15"/>
<rect x="646.5" y="11.5" width="35.1" height="222.6" fill="none" stroke="#000" stroke-width="1.15"/>
<line x1="493.0" y1="14.5" x2="497.0" y2="6.5" stroke="#000" stroke-width="1.5"/>
<line x1="499.0" y1="14.5" x2="503.0" y2="6.5" stroke="#000" stroke-width="1.5"/>
<line x1="493.0" y1="238.3" x2="497.0" y2="230.3" stroke="#000" stroke-width="1.5"/>
<line x1="499.0" y1="238.3" x2="503.0" y2="230.3" stroke="#000" stroke-width="1.5"/>
<line x1="356.1" y1="234.3" x2="356.1" y2="239.3" stroke="#000" stroke-width="1.1"/>
<line x1="365.1" y1="234.3" x2="365.1" y2="237.3" stroke="#000" stroke-width="1.1"/>
<line x1="374.1" y1="234.3" x2="374.1" y2="237.3" stroke="#000" stroke-width="1.1"/>
<line x1="383" y1="234.3" x2="383" y2="237.3" stroke="#000" stroke-width="1.1"/>
<line x1="392" y1="234.3" x2="392" y2="237.3" stroke="#000" stroke-width="1.1"/>
<line x1="401" y1="234.3" x2="401" y2="237.3" stroke="#000" stroke-width="1.1"/>
<line x1="410" y1="234.3" x2="410" y2="239.3" stroke="#000" stroke-width="1.1"/>
<line x1="418.9" y1="234.3" x2="418.9" y2="237.3" stroke="#000" stroke-width="1.1"/>
<line x1="427.9" y1="234.3" x2="427.9" y2="237.3" stroke="#000" stroke-width="1.1"/>
<line x1="436.9" y1="234.3" x2="436.9" y2="237.3" stroke="#000" stroke-width="1.1"/>
<line x1="445.9" y1="234.3" x2="445.9" y2="237.3" stroke="#000" stroke-width="1.1"/>
<line x1="454.8" y1="234.3" x2="454.8" y2="237.3" stroke="#000" stroke-width="1.1"/>
<line x1="463.8" y1="234.3" x2="463.8" y2="239.3" stroke="#000" stroke-width="1.1"/>
<line x1="472.8" y1="234.3" x2="472.8" y2="237.3" stroke="#000" stroke-width="1.1"/>
<line x1="481.8" y1="234.3" x2="481.8" y2="237.3" stroke="#000" stroke-width="1.1"/>
<line x1="490.7" y1="234.3" x2="490.7" y2="237.3" stroke="#000" stroke-width="1.1"/>
<line x1="507.4" y1="234.3" x2="507.4" y2="237.3" stroke="#000" stroke-width="1.1"/>
<line x1="515.3" y1="234.3" x2="515.3" y2="237.3" stroke="#000" stroke-width="1.1"/>
<line x1="523.2" y1="234.3" x2="523.2" y2="237.3" stroke="#000" stroke-width="1.1"/>
<line x1="531.2" y1="234.3" x2="531.2" y2="237.3" stroke="#000" stroke-width="1.1"/>
<line x1="539.1" y1="234.3" x2="539.1" y2="239.3" stroke="#000" stroke-width="1.1"/>
<line x1="547" y1="234.3" x2="547" y2="237.3" stroke="#000" stroke-width="1.1"/>
<line x1="555" y1="234.3" x2="555" y2="237.3" stroke="#000" stroke-width="1.1"/>
<line x1="562.9" y1="234.3" x2="562.9" y2="237.3" stroke="#000" stroke-width="1.1"/>
<line x1="570.8" y1="234.3" x2="570.8" y2="237.3" stroke="#000" stroke-width="1.1"/>
<line x1="578.7" y1="234.3" x2="578.7" y2="237.3" stroke="#000" stroke-width="1.1"/>
<line x1="586.7" y1="234.3" x2="586.7" y2="239.3" stroke="#000" stroke-width="1.1"/>
<line x1="594.6" y1="234.3" x2="594.6" y2="237.3" stroke="#000" stroke-width="1.1"/>
<line x1="602.5" y1="234.3" x2="602.5" y2="237.3" stroke="#000" stroke-width="1.1"/>
<line x1="610.4" y1="234.3" x2="610.4" y2="237.3" stroke="#000" stroke-width="1.1"/>
<line x1="618.4" y1="234.3" x2="618.4" y2="237.3" stroke="#000" stroke-width="1.1"/>
<line x1="626.3" y1="234.3" x2="626.3" y2="237.3" stroke="#000" stroke-width="1.1"/>
<line x1="634.2" y1="234.3" x2="634.2" y2="239.3" stroke="#000" stroke-width="1.1"/>
<line x1="660.2" y1="234.3" x2="660.2" y2="238.3" stroke="#000" stroke-width="1.1"/>
<line x1="674.5" y1="234.3" x2="674.5" y2="238.3" stroke="#000" stroke-width="1.1"/>
<line x1="395.1" y1="67.6" x2="395.1" y2="173.5" stroke="#000" stroke-width="1.25" stroke-dasharray="1.4 1.4"/>
<line x1="416.2" y1="83.5" x2="416.2" y2="190.2" stroke="#000" stroke-width="1.25" stroke-dasharray="1.4 1.4"/>
<line x1="523.7" y1="75" x2="523.7" y2="164.7" stroke="#000" stroke-width="1.25" stroke-dasharray="1.4 1.4"/>
<line x1="527.4" y1="46.1" x2="527.4" y2="179.4" stroke="#000" stroke-width="1.25" stroke-dasharray="1.4 1.4"/>
<line x1="541.7" y1="87" x2="541.7" y2="174" stroke="#000" stroke-width="1.25" stroke-dasharray="1.4 1.4"/>
<line x1="546.6" y1="86" x2="546.6" y2="174" stroke="#000" stroke-width="1.25" stroke-dasharray="1.4 1.4"/>
<line x1="583.8" y1="69.4" x2="583.8" y2="213" stroke="#000" stroke-width="1.25" stroke-dasharray="1.4 1.4"/>
<line x1="623.3" y1="72" x2="623.3" y2="182.3" stroke="#000" stroke-width="1.25" stroke-dasharray="1.4 1.4"/>
<line x1="627.7" y1="76" x2="627.7" y2="195.5" stroke="#000" stroke-width="1.25" stroke-dasharray="1.4 1.4"/>
<line x1="660.6" y1="31.2" x2="660.6" y2="164.2" stroke="#000" stroke-width="1.25" stroke-dasharray="1.4 1.4"/>
<line x1="667.3" y1="66" x2="667.3" y2="176.2" stroke="#000" stroke-width="1.25" stroke-dasharray="1.4 1.4"/>
<polyline points="356.8,22.3 358.1,22.1 359.3,22.9 360.6,23.3 361.8,23.7 363.1,24.6 364.3,25 365.6,25 366.9,25.3 368.2,25.8 369.5,25.6 370.9,26.2 372.2,26.6 373.5,26.9 374.8,27.3 376.1,27.6 377.4,27.6 378.6,28.1 379.9,29.2 381.1,28.7 382.4,29.5 383.6,30 384.9,30.2 386.2,31.2 387.5,32 388.9,32.5 390.2,33.8 391.3,34.7 392.3,35.5 393.4,37.4 394.4,38 395.5,39 396.3,40.3 397,41.3 397.8,42.3 398.5,43.8 399.3,44.9 400,46 400.8,47 401.6,48.6 402.5,50 403.1,51.4 403.8,52.4 404.5,53.8 405.1,54.9 406,56.2 406.9,57.4 407.8,58.8 408.6,60.2 409.3,61.8 410.1,62.1 410.8,64.2 411.6,65 412.3,66.6 413.1,67.6 414.2,68.4 415.3,69.8 416.4,71.2 417.5,72 419.2,72.4 421,72.9 422.3,72.8 423.6,72.2 425,71.9 426.3,72 427.3,71.4 428.3,70 429.4,68.9 430.4,67.5 431.4,66.6 432.4,65.8 433.3,64.4 434.2,63.5 435,62.3 435.9,61 436.8,59.8 437.7,58.8 438.6,57.8 439.5,57 440.4,55.4 441.2,54.3 442.1,53.9 443,52.6 444.2,51.2 445.3,50.5 446.5,49.6 447.7,48.7 448.8,48.3 450,46.4 451.2,45.4 452.3,45.2 453.5,44.3 454.9,44 456.3,43.3 457.8,42.5 459.2,42.3 460.6,41.7 462.2,41.5 463.7,42.5 465.3,42.6 466.4,43.8 467.5,44.3 468.6,45.4 469.7,46.1 470.6,46.8 471.5,48.4 472.4,48.8 473.2,49.8 474.1,50.7 475,51.9 476.5,50.7 477.9,50.5 479.4,49.6 480.6,49.2 481.7,47.5 482.9,46.9 484.1,46.2 485.2,45.1 486.4,44.3 487.7,43.6 489,43.8 490.4,43.6 491.7,43.1 493.2,42.8 494.6,42.2 496.1,42.2" fill="none" stroke="#84841c" stroke-width="1.45" stroke-linejoin="round"/>
<polyline points="356.8,44.3 358.3,44.4 359.7,44.1 361.2,44.7 362.7,45.2 364.1,45.3 365.6,45.2 366.9,45.6 368.1,46 369.4,46.2 370.6,46.7 371.9,46.9 373.1,47.5 374.4,47.8 375.6,48.4 376.7,49.3 377.9,50 379.6,50.9 381.4,51.4 382.6,52.1 383.7,52.5 384.9,53.5 386.1,54.7 387.2,55.5 388.4,56.6 389.3,58 390.2,59.7 391.1,61.3 391.9,62.4 392.8,64.1 393.2,66.1 393.7,67.6 395.1,65.8 395.9,67 396.7,67.7 397.4,68.8 398.2,70 399,71.1 399.8,72 400.5,73.6 401.3,74 402,75.7 402.8,76.7 403.5,77.6 404.3,79 405.2,80.2 406,80.9 406.9,82.2 407.8,83 408.6,84.1 409.5,85.2 410.7,85.8 412,86.5 413.2,87 414.5,87.3 415.7,87.8 417.2,88 418.8,87.3 420.3,86.9 421.9,87 423.2,85.7 424.5,84.8 425.8,84.1 427.1,83.4 428.3,82.1 429.5,81.7 430.6,80.8 431.8,79.9 433,79.1 434.2,78.2 435.5,77.4 436.7,76.6 438,75.9 439.2,75.2 440.5,74.1 441.7,74 443,72.9 444.1,72.5 445.2,71.4 446.3,71.1 447.4,69.6 448.5,69.2 449.6,67.9 450.7,67.6 451.8,66.7 452.8,65.5 453.8,65 454.7,63.8 455.7,63 456.7,62 457.7,61 458.6,59.8 459.6,59.3 460.6,57.9 462.1,57.6 463.5,57.2 465,56.7 465.9,58 466.8,58.6 467.6,60.1 468.5,60.6 469.2,62 469.9,63 470.6,64.1 471.7,64.5 472.8,65.9 473.9,66.3 475,67.1 475.9,66.2 476.8,65.2 477.6,64.5 478.5,63.4 479.4,62.3 480.3,60.7 481.1,59.8 482,58.9 482.9,57.7 483.7,56.7 484.6,55.3 485.8,54.7 487,54.2 488.1,52.9 489.3,52.7 490.5,51.7 491.7,50.9 493.4,50.5 495.2,50" fill="none" stroke="#d81ed8" stroke-width="1.45" stroke-linejoin="round"/>
<polyline points="356.8,77.3 358.3,77.7 359.7,77.8 361.2,78.3 362.7,78.4 364.1,78.9 365.6,79 366.9,79.3 368.1,80.3 369.4,80.2 370.6,80.9 371.9,81.6 373.1,82.1 374.4,82.6 375.7,82.9 376.9,83.5 378.2,84.2 379.4,84.8 380.7,85.4 381.9,85.5 383.2,86.1 384.4,86.7 385.5,87.2 386.7,87.5 387.9,88.3 389,89.3 390.2,89.6 392,90.5 392.9,91.2 393.7,93.2 394.6,93.5 395.5,94.7 396.4,96 397.3,96.6 398.1,97 399,98.7 399.9,100 400.8,100.6 401.8,101.5 402.8,102.9 403.8,103.8 404.8,104.8 405.8,105.8 406.8,106.7 407.8,107.6 409,108.5 410.1,109.4 411.3,109.9 412.5,110.7 413.6,111.4 414.8,112 416.1,112 417.5,111.8 418.8,111.6 420.1,112 421.4,111.1 422.6,110.4 423.9,109.8 425.1,109.7 426.4,108.8 427.6,108.5 428.9,107.6 430.1,107.8 431.3,106.6 432.4,105.7 433.6,105.3 434.8,104.6 436,104.1 437.1,104 438.3,103.3 439.5,102.3 440.7,101.8 441.8,100.8 443,100.3 444.2,99.3 445.3,98.5 446.5,97.5 448.2,96.6 450,96.2 451,95.2 452,94.5 453,93.5 454.1,92.5 455.1,91.3 456.1,90.7 457.1,90 458.3,89.4 459.6,88.8 460.8,87.9 462,87.5 463.6,88.2 465.3,89 466.5,90.4 467.6,91 468.8,91.5 470,93 471.4,93.8 472.7,94.7 474.1,95.5 475.4,94.9 476.8,93.7 478.1,93.1 479.4,91.8 480.5,90.9 481.7,90.2 482.9,89.3 484,88 485.2,87.5 486.4,86.2 487.5,85.4 488.7,85.3 489.9,83.4 491.4,82.9 493,83 494.6,82.9 496.1,82.6" fill="none" stroke="#1e8282" stroke-width="1.45" stroke-linejoin="round"/>
<polyline points="356.8,100.6 358.3,100.6 359.7,101.1 361.2,101 362.7,101.3 364.1,101.3 365.6,101.4 367,101.5 368.4,102.4 369.8,103 371.2,103.1 372.6,103.2 374.1,103.6 375.5,103.4 377,104.2 378.5,104.4 379.9,104.5 381.4,105 382.8,105.1 384.2,106.2 385.6,106.8 387,107.3 388.4,107.6 389.5,109.2 390.5,109.3 391.6,110.9 392.6,111.8 393.7,112.9 394.6,114.3 395.5,114.9 396.4,115.7 397.2,117 398.1,118.1 399,119 399.9,119.8 400.8,120.8 401.6,122.1 402.5,123.2 403.4,123.9 404.2,125.1 405.1,125.9 406,127 407.1,128 408.1,129.1 409.2,130.4 410.2,131.6 411.3,132.2 412.4,133.1 413.5,134.3 414.6,135.6 415.7,136.1 416.8,135.6 417.9,134.5 419,134 420.1,133.1 421.4,132.7 422.8,132.4 424.1,132.7 425.4,132.8 426.6,131.9 427.7,131.1 428.9,131 430.1,130 431.2,129.4 432.4,128.7 433.6,128.1 434.8,127.5 435.9,126.7 437.1,126.8 438.3,125.3 439.5,125.2 440.8,124.7 442,124.4 443.3,123.7 444.5,123.2 445.8,122.8 447,122.3 448.3,121.7 449.6,121 450.8,120.7 452.1,119.9 453.3,119.5 454.6,118.6 455.8,117.5 457.1,117.3 458.4,116.2 459.7,115.7 461.1,115.2 462.4,114 463.7,113.5 465,112.9 466.5,113.8 467.9,114.1 469.4,114.6 471,114.7 472.6,115 474.2,115.3 475.8,115.5 477.1,114.8 478.3,114.2 479.6,113.5 480.8,113 482.1,112.7 483.3,112.1 484.6,111.1 485.9,110.2 487.2,110.6 488.6,109.4 489.9,108.6 491.2,108 492.6,107.8 493.9,107.3 495.2,106.7" fill="none" stroke="#0a0ad2" stroke-width="1.45" stroke-linejoin="round"/>
<polyline points="356.8,111.1 358,111.5 359.1,112.1 360.3,112.8 361.5,113.5 362.6,114.2 363.8,114.6 365.1,115.3 366.3,115.1 367.6,116 368.8,116.7 370.1,117.3 371.3,117.9 372.6,118.2 373.9,118.5 375.1,119.8 376.4,119.8 377.6,120.7 378.9,121.2 380.1,121.9 381.4,122.6 382.6,123.1 383.7,124.3 384.9,125 386.1,125.6 387.2,126 388.4,127 389.5,127.6 390.6,128.5 391.7,129.3 392.8,130 394.1,131.2 395.5,132.6 396.4,133.5 397.3,135.2 398.1,135.6 399,136.5 399.9,136.9 400.8,138.5 401.7,139.5 402.6,141.2 403.4,142.1 404.3,142.8 405.2,144.4 406.1,145.4 406.9,146.3 407.8,147.6 408.9,148.7 409.9,149.2 411,150.2 412,151.1 413.1,152 414.9,152.5 416.6,152.9 417.9,152.6 419.2,152.5 420.6,152.2 421.9,152 423.2,151.7 424.4,151.4 425.7,150.7 426.9,150.2 428.2,150.1 429.4,150.1 430.7,149.4 432,149.1 433.2,148.7 434.5,148.1 435.7,147.6 437,147.2 438.2,146.9 439.5,146.7 440.8,146 442,145.1 443.3,144.8 444.5,143.8 445.8,143.7 447,142.9 448.3,142.3 449.5,141.2 450.6,140.7 451.8,140.2 453,139.5 454.1,138.9 455.3,138 456.5,137.3 457.6,136.8 458.8,136.1 460,135.7 461.1,134.8 462.3,134.4 463.6,134.8 465,135.3 466.3,135.7 467.6,136.2 468.9,136.2 470.2,137.1 471.5,137.2 472.8,137.1 474.1,137.6 475.3,137.4 476.4,136.1 477.6,135.3 478.8,134.8 479.9,134.3 481.1,133.5 482.4,133.5 483.6,133.1 484.9,132.5 486.1,132 487.4,131.8 488.6,131.1 489.9,130.9 491.2,130.4 492.5,130.3 493.9,129.9 495.2,129.5" fill="none" stroke="#e61414" stroke-width="1.45" stroke-linejoin="round"/>
<polyline points="356.8,145 358.3,145.2 359.7,145 361.2,145.5 362.7,145.2 364.1,145.9 365.6,145.8 367.1,146.1 368.5,146.2 370,146.6 371.5,147.7 372.9,148 374.4,147.6 375.8,147.8 377.2,148.6 378.6,148 380,149.3 381.4,149.4 382.6,150.3 383.7,151.2 384.9,151.8 386.1,152.6 387.2,153.8 388.4,154.6 389.3,155.6 390.2,156.8 391,158 391.9,158.8 392.8,159.9 394.6,161.7 396.4,160.8 397.3,162 398.1,163 399,164.2 399.9,165.2 400.9,166.1 401.9,167.3 402.9,168.4 404,169.4 405,170.3 406,171.4 407.2,171.8 408.4,172.7 409.6,174.1 410.7,174.8 411.9,175.4 413.1,176.1 414.9,177 416.6,177.7 417.9,177 419.2,176.5 420.6,175.8 421.9,174.9 423.1,174.3 424.2,173.8 425.4,173.4 426.6,172.2 427.7,171.8 428.9,171.4 430.1,170.7 431.3,169.9 432.4,169.5 433.6,168.8 434.8,168.4 436,168 437.1,167 438.3,166.7 439.5,166.1 440.7,165.7 441.8,164.8 443,163.7 444.2,163.2 445.3,162.9 446.5,161.9 447.7,161.1 448.8,160.8 450,159.9 451.2,159.1 452.5,158.3 453.8,158.1 455,157.3 456.2,156.4 457.5,156 458.8,155.5 460,154.6 461.5,154 463,152.9 464.1,153.8 465.3,154.8 466.5,155.6 467.6,156.4 468.7,156.9 469.7,158.6 470.8,158.9 471.8,159.8 472.9,160.8 474.5,160.6 475.6,159.4 476.7,158.4 477.8,157.9 478.9,156.6 480,155.5 481.1,154.6 482.3,153.4 483.5,153.2 484.6,152.4 485.8,151.4 487,150.9 488.2,150.2 489.6,149.4 491,149.7 492.4,148.9 493.8,149 495.2,148.5" fill="none" stroke="#000" stroke-width="1.45" stroke-linejoin="round"/>
<polyline points="501.4,38.2 502.4,38.1 503.4,37 504.4,37.3 505.5,37.3 506.5,37.8 507.5,37.3 508.6,37.6 509.7,37.6 510.8,38 511.9,37.2 513,37.1 514.1,36.5 515.2,36.9 516.3,37.3 517.4,38 518.4,37.9 519.5,38.3 520.5,39.6 521.6,39.6 522.5,39 523.4,41.2 524.2,41.7 525.1,40.8 526,42.3 526.9,42.6 527.6,41.9 528.3,41.6 529,40.3 529.7,39.7 530.4,39 531.5,39.1 532.5,37.8 533.6,37.8 534.6,37.4 535.7,36.7 536.6,37.2 537.4,38.2 538.3,38.5 539.2,39.2 540,38.6 540.9,39.9 541.8,40.2 542.7,41.5 543.5,42.6 544.4,43.5 545.3,43.6 546.2,44.3 547.5,43.5 548.9,43.4 549.4,43.8 549.9,44.3 550.5,45.8 551,47.2 551.5,47.8 552.4,47.2 553.2,46 554.1,46.1 554.8,45.2 555.4,44.4 556.3,43.8 557.2,42.8 558,43 558.9,42 559.8,41.1 561,40.8 562.1,39.6 563.3,39.5 564.4,38.8 565.6,39 566.2,40.4 566.9,41.3 567.6,41.5 568.2,42.6 568.6,43 568.9,44.9 569.3,45.3 569.6,46 570,47.5 570.5,48.4 571,49.6 571.6,49.9 572.1,51.2 572.6,52.1 573.1,53.4 573.6,54.2 574.2,54.1 574.7,55.9 575.2,56.5 576,58.1 576.9,58.6 577.7,58.9 578.5,59.8 578.8,60.9 579,61.1 579.3,62.4 579.6,63.4 579.9,65.5 580.2,65.6 580.4,66.1 580.7,67.5 581.5,69.3 582.2,69.7 582.6,69.3 582.9,67.1 583.2,66.7 583.6,65.1 584,65.3 584.3,63 584.6,63.8 585,62 585.3,60.6 585.5,59.6 585.8,60 586,58.3 586.3,57.3 586.5,56.5 586.8,54.7 587,54.6 587.3,53.2 587.5,52.1 587.7,51.4 587.9,50.3 588.1,49.8 588.4,47.7 588.6,46.6 588.8,46.5 589,45.2 589.2,45.2 589.5,43.4 589.7,42.1 589.9,41.4 590.1,39.6 590.4,39.1 590.6,37.3 590.8,37.1 591,36.3 591.2,35.7 591.5,33.7 591.7,32.9 592.3,32.4 592.9,31.7 593.5,29.8 594,29.3 594.6,27.7 595.2,27.6 596.1,26.6 597,26.6 597.9,25 598.7,25.1 599.6,25 600.5,24.1 601.6,24.5 602.6,22.7 603.7,23.7 604.7,23.1 605.8,23.2 606.8,22.6 607.9,23.5 608.9,24.5 610,24.6 611,25 611.9,26.2 612.8,26.6 613.6,27.9 614.5,28.5 615.2,28.8 615.9,29.5 616.7,30.5 617.4,30.6 618.1,32 619.4,32.1 620.7,31.1 621.6,31.6 622.4,31.9 623.3,32.9 624.2,32.1 625.1,31.6 626,31.6 626.9,31.1 627.8,30.2 628.6,30 629.5,28.4 630.4,28.1 631.2,26.8 632.1,26.7 633,25.8 633.9,25.8 634.8,24.5 635.6,24.2 636.5,23 637.4,22.3 638.7,22.3 640,23.2 641.1,21.9 642.2,21.4" fill="none" stroke="#84841c" stroke-width="1.45" stroke-linejoin="round"/>
<polyline points="502.2,50 503.3,50 504.3,51.2 505.4,51.7 506.4,53.3 507.5,52.6 508.4,53.9 509.3,54.2 510.1,54 511,55.1 511.9,55.2 512.8,56.2 513.5,58 514.1,57.4 514.8,59 515.5,58.7 516.1,60.3 516.8,60.3 517.4,61.3 518.1,62.3 518.6,63.4 519.1,64.4 519.6,65.3 520.1,66.3 520.6,67 521.1,68.3 521.6,69.4 522,70.3 522.5,70.9 522.9,72.5 523.3,73.2 523.8,73.8 524.2,75 525.4,75.3 526.5,74.3 527.7,74.3 528.3,72.7 529,73.2 529.6,71.7 530.2,71.6 530.8,70.3 531.5,69 532.1,68.5 532.6,69.9 533.1,70.4 533.6,71.5 534.2,72 534.7,73.5 535.2,74.1 535.7,74.6 536.1,75.4 536.5,75.9 536.9,77.5 537.3,78.5 537.6,79.1 538,80.4 538.4,82.1 538.8,82.2 539.2,83.4 539.9,84.8 540.5,84.8 541.1,85.7 541.8,87 542.9,87.2 544,86.5 545.1,86.4 546.2,86.1 546.7,85.4 547.1,84.6 547.5,82.3 548,81.7 548.3,81 548.5,79.8 548.8,78.8 549.1,78.5 549.4,76.6 549.6,75.5 549.9,75 550.2,72.9 550.5,72.9 550.7,71.4 551,70.8 551.5,70 552.1,68.6 552.6,68.3 553.2,67 553.8,65.9 554.3,65.3 555.4,65 556.5,64.5 557.6,63 558.7,63.1 560,62.9 561.2,63.6 562.5,64 563.2,64.7 563.9,66.4 564.6,67.4 565.3,67.8 566,68.5 566.5,70 567.1,70.4 567.6,70.9 568.2,72.6 568.8,72.7 569.3,74.5 569.6,76.3 569.9,76.8 570.2,78.2 570.6,78.5 570.9,79.2 571.2,80.8 571.5,82 571.7,83.2 571.8,83.9 572,84.8 572.1,86 572.3,86.9 572.5,88.6 572.6,88.4 572.8,90 573.1,90.1 573.4,92 573.7,93.2 574,93.4 574.4,95.1 574.7,96.3 575,97.3 575.3,98.3 575.6,99.2 576,99.9 576.5,100.7 577,102.8 577.4,103.3 577.8,103.9 578.3,105.6 578.8,107.3 579.4,107.9 580,107.3 580.5,109.5 581.3,111.7 582,111.7 582.8,112.7 583.5,111.2 584.1,111.5 584.8,110.4 585.5,109.4 585.7,109 586,107.4 586.2,105.7 586.5,105.4 586.7,104.3 587,103.6 587.2,102.4 587.5,101.7 587.7,100 588,99.3 588.2,98.5 588.4,97.2 588.6,96.6 588.8,94.6 589,94.3 589.2,94.3 589.4,91.5 589.5,91.7 589.7,90.2 589.9,89.6 590.1,88.1 590.3,87.2 590.5,86 590.7,85.2 590.9,84.2 591.1,82.5 591.2,81.9 591.4,81.8 591.6,80.6 591.8,78.6 592,78 592.2,76.6 592.5,75.9 592.7,75.3 592.9,74.2 593.1,72.5 593.4,70.7 593.6,70.7 593.8,69 594.1,69.2 594.3,67.6 594.8,67.2 595.4,65.8 595.9,64.7 596.5,63.6 597,62.3 597.4,62.1 597.7,60.8 598.1,59.9 598.5,57.8 598.9,57.1 599.2,56.3 599.6,55.3 600,53.3 600.3,53.1 600.7,52.1 601,51 601.4,50 601.9,50.1 602.4,48 603,47 603.5,46.1 604,45.2 604.9,44.4 605.8,43.3 606.6,43.7 607.5,42.6 608.4,43.1 609.3,43.8 610.1,44.2 611,44.3 611.9,45.2 612.5,45.4 613.1,46.8 613.6,48.1 614.2,48.7 614.8,49.9 615.4,50.5 615.8,51.1 616.3,52.2 616.7,53.3 617.2,54.1 617.6,55.2 618,56.6 618.5,56.8 618.9,57.9 619.4,58.5 619.8,59.7 620.1,60.9 620.5,61.8 620.8,62.3 621.1,63.2 621.5,64.1 621.8,65.5 622.2,66.7 622.5,67.6 622.8,68.4 623.2,69.7 623.5,70.8 623.9,72.9 624.2,72.9 624.9,74.7 625.5,75.5 625.8,75.3 626.2,73.2 626.5,72 626.8,73.2 627.1,75 627.4,75.5 627.7,76.4 628,75.7 628.2,74.2 628.5,73.2 628.7,72.7 629,71.1 629.2,70.1 629.5,69.4 629.8,67.7 630,67.4 630.3,66.2 630.5,65.4 630.8,63.7 631.1,62.5 631.3,62.5 631.6,60.9 631.8,60.2 632.1,58.8 632.5,57.3 633,56.2 633.5,54.6 633.9,54.8 634.3,54.1 634.8,52.6 635.5,52.3 636.2,51.5 636.9,49.1 637.6,48.4 638.3,48 639.3,47.1 640.2,46.3 641.2,45.8 642.2,45.2" fill="none" stroke="#d81ed8" stroke-width="1.45" stroke-linejoin="round"/>
<polyline points="501.4,82.2 502.4,82.2 503.4,82.3 504.4,83.2 505.5,83.7 506.5,83.6 507.5,84.3 508.4,85 509.2,85.1 510.1,86.1 511,86.8 511.9,87.4 512.8,88.2 513.6,88.4 514.5,89.6 515.1,89.8 515.7,90.9 516.3,92.4 516.9,92.5 517.4,93.3 518,95.4 518.6,95.2 519.2,96 519.8,97 520.5,97.3 521.2,99.1 521.9,99.4 522.6,100 523.3,100.6 524.4,101.3 525.5,100.1 526.6,99.9 527.7,100.6 528.4,100.3 529.2,99.3 529.9,98.2 530.6,98 531.4,96.9 532.1,96.2 532.8,97.8 533.4,97.2 534.1,98.6 534.8,99.7 535.4,100.4 536.1,100.6 536.7,101.4 537.4,102.3 538.1,102.9 538.9,104.2 539.6,104.6 540.3,105.5 541.1,106.8 541.8,107.2 542.9,107 544,107.1 545.1,106.8 546.2,106.7 546.8,105.8 547.4,104 548,103.6 548.5,103.3 549.1,102 549.7,101.4 550.3,100.3 551,99.7 551.6,99.8 552.2,97.6 552.8,96.6 553.5,95.4 554.1,95.3 555,94.8 555.9,93.8 556.7,92.7 557.6,92.2 558.5,91.6 559.4,92.7 560.3,93.3 561.1,93.7 562,94.7 562.9,95.3 563.8,95.5 564.3,96.2 564.9,97.6 565.4,98.1 565.9,99.3 566.5,99.9 567,101.6 567.5,101 568,102.5 568.6,102.8 569.1,104.1 569.6,106 570.2,105.7 570.7,106.6 571.2,107.7 571.8,108.5 572.3,110.2 572.8,110.3 573.3,111.3 573.9,112.6 574.4,113 575,114.7 575.7,114.6 576.4,116.1 577,117 577.8,117.4 578.6,119.1 579.4,120.5 580.2,120.8 581.1,121.4 582,122.4 582.9,123.4 583.8,123 584.6,121.8 585.5,121.1 586.4,119.9 586.7,118.7 587,117.7 587.3,116.7 587.6,116.5 587.9,114.1 588.1,113.5 588.4,113.4 588.7,111.7 589,110.2 589.3,109.8 589.6,108.5 589.9,107.6 590.1,106.5 590.4,105.8 590.6,104.9 590.9,102.9 591.1,102.7 591.4,102.2 591.6,100 591.9,99.5 592.1,98 592.4,97.8 592.6,96.2 592.9,95.4 593.1,94.3 593.4,93.5 594,92.8 594.6,91.1 595.2,90.8 596.5,90.9 597.8,92.2 598.1,91.2 598.4,90.7 598.7,88.8 599,88.1 599.3,87 599.6,85.8 599.9,84.7 600.2,83.4 600.5,82.6 601.1,81.6 601.7,81.4 602.2,80.1 602.8,79.6 603.4,77.9 604,77.3 605.1,77.4 606.2,77 607.3,76.7 608.4,77.3 609.3,78.2 610.2,78.2 611,79 611.9,78.8 612.8,79.9 613.7,80.7 614.5,81.6 615.4,82.4 616.3,83.4 617,84.6 617.7,85 618.4,85.6 619.1,86.4 619.8,87 620.3,87.8 620.9,88.8 621.4,90 622,90.7 622.5,92.2 623.1,93.2 623.6,94.3 624.2,95.4 625,95.1 625.7,93.7 626.5,93.1 627.1,95.3 627.7,95.4 628.1,94.2 628.5,93.5 628.9,92.5 629.2,91.3 629.6,90.6 630,88.9 630.4,88.7 630.9,88.3 631.4,86.7 631.9,86.1 632.4,84.4 632.9,84.6 633.4,82.9 633.9,82.6 634.8,82.6 635.7,81.1 636.5,80.7 637.4,80.7 638.3,79.9 639.3,80.2 640.2,78.6 641.2,78.5 642.2,79" fill="none" stroke="#1e8282" stroke-width="1.45" stroke-linejoin="round"/>
<polyline points="502.2,107.6 503.1,108.9 504,108.9 504.9,108.6 505.8,109.6 506.6,110.7 507.5,110.7 508.4,112.1 509.3,112 509.9,112.5 510.6,113.6 511.2,114.8 511.9,115.8 512.5,116 513.2,116.9 513.9,117.3 514.5,118.2 515,119.1 515.6,119.7 516.1,121 516.6,122.1 517.1,122.2 517.7,123 518.2,124.4 518.7,126.1 519.3,126.2 519.8,127 520.5,127.9 521.2,128.7 521.9,128.9 522.6,130.2 523.3,131.4 524.5,132.3 525.7,131 526.9,132.2 527.3,132 527.8,129.7 528.2,130.1 528.6,129.4 529.1,127.9 529.5,126.2 530,125.5 530.4,124.3 531.1,123.2 531.8,122.3 532.5,121.7 533.2,119.4 533.9,119.9 534.5,121 535.1,121.5 535.6,122.1 536.2,123.3 536.8,124.6 537.4,125.2 537.9,125.9 538.4,127.4 538.9,127.6 539.4,129.2 539.9,129.7 540.4,131.5 540.9,132.2 541.8,132.3 542.7,133.7 543.6,134 544.3,132.3 545,132.3 545.7,131.8 546.4,130.1 547.1,129.6 547.5,128.7 547.8,127.3 548.2,127 548.6,126.1 548.9,125.3 549.3,124.5 549.7,123.5 550,121.7 550.4,121.1 550.8,120.3 551.1,119.2 551.5,118.2 552.2,116.8 552.8,117.5 553.5,117 554.1,115.1 554.8,113.2 555.5,114.3 556.1,112.7 556.8,112 557.6,112.1 558.4,109.8 559.2,109.6 560,108.5 561.1,108.7 562.1,107.5 563.2,107.8 564.2,108 565.3,107.6 565.9,108.8 566.5,109.5 567,109.1 567.6,110.1 568.2,112.2 568.8,112.9 569.4,114.5 570,114 570.6,115.7 571.2,116.8 571.7,116.9 572.3,117.5 572.9,119.2 573.5,119.7 574.1,120.8 574.8,121.6 575.4,122.5 576.1,123.4 576.8,124.4 577.4,124.9 578.1,126 578.7,126.7 579.4,127.8 580.1,128.3 580.8,129.7 581.5,130.1 582.2,131.5 582.9,132.2 583.6,131.3 584.3,130.9 585,129.8 585.7,127.8 586.4,127.8 586.7,126.8 587,126 587.4,124.7 587.7,123.7 588,123.1 588.3,121.9 588.6,119.9 588.9,119.5 589.3,118.9 589.6,117.5 589.9,116.4 590.4,114.8 590.9,114.7 591.4,113.7 591.9,112.9 592.4,111.5 592.9,110.4 593.4,109.4 594.3,108.9 595.2,107.1 596.1,106.7 596.7,108.6 597.2,109.2 597.8,110.2 598.2,109.3 598.7,108.5 599.1,107.5 599.6,105.2 600,105.5 600.5,104.1 601.4,103.2 602.2,102 603.1,101.9 604,100.6 605.1,100.8 606.1,100.4 607.2,99.8 608.2,99.9 609.3,99.7 610.5,99.8 611.6,101.9 612.8,101.4 613.7,101.8 614.6,103.2 615.5,104.3 616.3,104 617.2,104.8 618.1,105.8 618.8,105.6 619.6,107.2 620.3,107.4 621,108.8 621.8,109.4 622.5,110.2 623.2,111.1 623.9,112 624.6,112.6 625.3,113.8 626,114.6 626.9,115.5 627.7,116.4 628.2,115 628.8,114.1 629.3,113 629.9,111.6 630.4,111.1 631.3,110.3 632.2,108.8 633,109.1 633.9,108.1 634.8,107.5 635.7,106.7 636.5,106.6 637.3,105.8 638.1,104.5 639,104.2 639.8,103.9 640.6,102.7 641.4,102.2 642.2,101.4" fill="none" stroke="#0a0ad2" stroke-width="1.45" stroke-linejoin="round"/>
<polyline points="502.2,130.5 503.3,131.2 504.3,131.1 505.4,132.2 506.4,132.4 507.5,133.1 508.3,133.7 509,134.7 509.8,135.5 510.5,135.5 511.3,136.5 512,137.2 512.8,138 513.5,138.4 514.2,139.9 514.9,140.5 515.6,141.1 516.3,142.3 516.9,143.6 517.5,144 518.1,144.4 518.7,145.8 519.2,146.6 519.8,147.7 520.4,149.4 521,149.6 521.6,150.2 522.5,151.4 523.3,151.3 524.2,152 525.1,151.5 526,150.9 526.8,150 527.7,149.4 528.2,148.5 528.7,147.2 529.2,146.8 529.7,145.1 530.1,145.3 530.6,141.9 531.1,141.9 531.6,141.5 532.1,140.6 532.7,141.6 533.3,142.4 533.9,142.5 534.5,144.2 535.1,144.5 535.7,145.8 536.2,146.9 536.7,147.6 537.2,148.6 537.7,149 538.1,150.1 538.6,151.4 539.1,152.2 539.6,153.7 540.1,154.6 541,154.7 541.9,156 542.7,156.9 543.6,157.3 544.5,156.3 545.4,155.5 546.2,155 547.1,154.8 548,153.8 548.4,153.4 548.7,152.8 549,150.9 549.4,150.2 549.8,149 550.1,148 550.5,146.5 550.8,145.9 551.1,145.6 551.5,144.1 551.9,143.7 552.4,141.8 552.8,140.4 553.2,140.9 553.7,139 554.1,138.2 554.6,136.9 555,136 555.6,134.2 556.2,134.1 556.8,132.6 557.3,131.9 557.9,130.7 558.5,130 559.3,129.2 560.2,129.7 561,128 562.1,129.2 563.3,128.2 564.4,129.6 564.9,129.8 565.5,131.1 566,131.9 566.6,133.4 567.1,134.6 567.7,134.5 568.2,136 568.8,136.6 569.7,137.6 570.6,138.8 571.1,138.9 571.5,141.2 572,142.4 572.5,142.3 573,143.9 573.4,144.3 573.9,145.5 574.4,146.3 574.9,147.4 575.3,148.5 575.8,149.4 576.3,150.1 576.8,151.5 577.3,151.8 577.8,153.7 578.2,153.9 578.7,154.4 579.2,156.6 579.7,157.1 580.2,158.2 581.1,158.8 582,160.3 582.9,160.8 583.6,159.9 584.3,159.9 585,158.3 585.7,156.6 586.4,156.4 586.6,155.2 586.8,154.1 587.1,153.3 587.3,153.2 587.5,152.6 587.7,151.2 587.9,149.7 588.1,148.7 588.4,147.6 588.6,145.5 588.8,146.1 589,145.4 589.2,143.3 589.5,142.6 589.7,141.3 589.9,140.6 590.1,139.5 590.3,138.2 590.4,137.1 590.6,137.1 590.8,134.7 591,135 591.2,133 591.3,132.4 591.5,130.6 591.7,130.5 592,129.8 592.4,128.1 592.7,128.6 593,126.1 593.3,125.7 593.6,124.9 594,123.2 594.3,122.6 595.2,123.1 596.1,123.9 597,125.2 597.2,124.4 597.5,123.2 597.7,122.4 597.9,120.3 598.2,119.4 598.4,118.7 598.6,117.5 598.9,116.7 599.1,115.5 599.9,115.1 600.7,113.8 601.4,112.5 602.2,112 603.3,111.8 604.3,111.3 605.4,111.2 606.4,112.1 607.5,111.1 608.6,111.7 609.6,112.6 610.7,112.1 611.7,112.5 612.8,112.9 613.6,113.1 614.3,114.5 615.1,115.5 615.8,116.2 616.6,116.2 617.3,117.5 618.1,118.2 618.6,119.5 619.1,119.7 619.6,121.1 620.1,121.5 620.5,122.6 621,123.2 621.5,123.7 622,124.8 622.5,126.1 622.9,127.3 623.4,128.2 623.8,129.4 624.2,130.5 624.8,129.4 625.4,129.1 625.9,127.8 626.5,127 626.7,128.2 627,128.9 627.2,130.7 627.5,131.1 627.7,132.2 628,131.3 628.3,131 628.6,129.2 628.9,127.2 629.2,126.6 629.5,125.9 629.8,124.2 630.1,123 630.4,122.6 631.1,121.8 631.7,120.3 632.4,120.7 633,119.7 633.7,118.6 634.4,118.5 635,116.9 635.7,116.4 636.5,115.2 637.3,115.5 638.1,114.4 639,113.6 639.8,113.5 640.6,112.4 641.4,112 642.2,111.1" fill="none" stroke="#e61414" stroke-width="1.45" stroke-linejoin="round"/>
<polyline points="502.2,147.2 503.2,147.6 504.2,148.3 505.2,148.4 506.3,148.2 507.3,149.4 508.3,148.9 509.3,149.4 510.3,150.6 511.3,149.8 512.3,150.9 513.3,150.4 514.3,152.1 515.3,153 516.3,152.9 517.2,153.5 518.1,154.6 519,155 519.8,156.5 520.7,156.7 521.6,157.3 522.5,158.3 523.4,159.5 524.2,159.2 525.1,160.8 526.3,161.4 527.4,161.5 528.6,161.7 529.8,162.6 530.9,162.3 532.1,162.6 533,164.1 533.9,165 534.6,165.7 535.3,166.1 536,167 536.7,167.9 537.4,168.7 538.1,169 538.8,170.4 539.5,171.1 540.2,173 540.9,173.1 541.8,173.8 542.7,174.8 543.6,175.6 545.5,175.6 547.1,174.5 547.5,173.6 548,173 548.4,171 548.8,170.1 549.3,170.6 549.7,169 550.2,167.6 550.6,166.6 551,166.5 551.5,165.1 552,163.7 552.4,163.3 552.8,161.5 553.3,161 554.4,161.2 555.5,159.9 556.6,159.6 557.7,159 558.6,159.5 559.5,160.9 560.3,160.2 561.2,161.1 562.1,161.7 562.9,163.4 563.7,162.4 564.5,164 565.3,165 565.9,166.1 566.4,166.9 567,168 567.4,169.1 567.8,170.4 568.2,170.3 568.5,171.4 568.9,173.2 569.3,174.4 569.7,174.5 570.1,174.3 570.6,176.8 571,178 571.4,178.3 571.9,179.2 572.3,180.6 572.6,181.2 572.9,182.6 573.2,183.3 573.5,185.1 573.8,185.6 574.1,187.2 574.4,188 574.6,188.3 574.9,190.4 575.1,191.3 575.3,192.4 575.6,193.1 575.8,195 576.1,195.4 576.3,196 576.5,197.7 576.8,197.8 577,199 577.3,200.1 577.6,201.7 577.9,201.8 578.2,203 578.6,204.1 578.9,205.1 579.2,205.9 579.5,207 579.9,208.5 580.3,210 580.7,210 581.2,210.5 581.6,212 582,212.7 582.4,214.3 582.9,212.8 583.4,211.9 584,211.8 584.5,210.4 585,209.4 585.1,208.7 585.3,207.3 585.4,206.8 585.5,205.2 585.6,204.9 585.8,203.7 585.9,202.4 586,200.7 586.2,199.8 586.3,199.4 586.4,197.9 586.5,197.2 586.7,196.2 586.8,195.3 586.9,194.9 587,192.9 587.1,192.2 587.2,190.9 587.3,189.8 587.4,189.2 587.5,188 587.7,187.4 587.9,185.2 588.1,185.5 588.3,184.8 588.5,182.8 588.7,181.9 588.9,180.1 589.1,179.4 589.3,178.6 589.5,177.4 589.7,177 589.9,175.3 590.1,173.9 590.4,173.1 590.6,172.4 590.8,171.1 591,170 591.2,169 591.5,168.2 591.7,167 591.9,165.2 592.1,166.1 592.3,164.3 592.5,162.5 592.7,161.5 592.9,160.4 593.1,160.1 593.3,158 593.5,158.9 593.7,156.6 593.9,155.2 594.1,155.7 594.3,153.8 595.2,153.2 596.1,152.8 597,152 597.6,152.8 598.1,153.6 598.7,154.6 598.9,154.5 599.2,151.7 599.4,151.7 599.6,150.3 599.8,149.5 600,148.6 600.3,146.9 600.5,146.7 601.4,146.4 602.2,145.6 603.1,145.2 604,144.4 605.1,144.3 606.1,145 607.2,144.6 608.2,145.2 609.3,145 610.2,146.2 611,146.6 611.9,146.3 612.8,147.6 613.7,148.5 614.5,148.9 615.4,151.1 616.3,151.1 616.9,152.1 617.5,152.3 618,153.1 618.6,155.2 619.2,155.1 619.8,156.4 620.2,157.6 620.7,158.3 621.1,159.4 621.6,160.3 622,161.6 622.5,162.6 622.8,164.3 623.2,164.3 623.5,165.9 623.9,167 624.2,167.8 624.7,166.6 625.2,166 625.3,166.5 625.5,167.6 625.6,169.3 625.7,170.1 625.9,171.5 626,172.2 626.1,173.1 626.2,174 626.4,175.1 626.5,176 626.6,175 626.8,174.3 626.9,172.6 627,172.5 627.2,171.7 627.3,170 627.4,169.2 627.6,167.5 627.7,167 627.9,166 628,164.3 628.2,164.3 628.3,162.9 628.5,162.3 628.6,161.3 628.8,159.5 628.9,159.1 629,158.4 629.2,157.7 629.4,155.6 629.5,154.6 630,154 630.6,152.6 631.1,152.3 631.7,151.4 632.2,150.9 632.8,149.3 633.4,148.5 633.9,147.6 635,147.5 636,146.8 637.1,147.4 638.1,145.2 639.2,145.8 640.2,144.8 641.2,145 642.2,145" fill="none" stroke="#000" stroke-width="1.45" stroke-linejoin="round"/>
<polyline points="646.5,34 647.4,33.7 648.3,32.9 649.3,32.5 650.2,31.1 651.1,31.2 652.1,31.3 653.1,31.2 654.1,31.5 655.2,31.1 656.2,30.3 657.2,30.1 658.2,29.8 659.2,30.2 661,29.8 662,29.1 663.1,28.8 664.1,29 665.2,28.6 666.2,27.5 667.3,27 668.3,26.9 669.3,26.3 670.3,25.4 671.3,25.9 672.3,25 673.3,25 674.4,24.1 675.5,24.2 676.6,25 677.7,23.6 678.8,24.5 679.9,23.1 681,23.5" fill="none" stroke="#84841c" stroke-width="1.45" stroke-linejoin="round"/>
<polyline points="646.5,80.2 647.1,79.3 647.6,78.7 648.2,77.4 648.8,76.3 649.4,75.8 650,75.7 650.5,74.4 651.1,73.2 651.6,72.4 652.1,71.6 652.6,71 653.1,70.1 653.7,68.5 654.2,67.4 654.7,66.4 655.2,66 655.7,64.9 656.2,64.1 657,63.3 657.8,62.2 658.6,62.8 659.4,60.6 660.2,60.1 661.2,61.1 662.2,60.4 663.2,61.1 664,61.6 664.8,62.2 665.7,63 666.5,63.6 667.3,65.1 667.7,63.7 668.2,63 668.6,62.4 669,60.3 669.4,60.3 669.9,59.1 670.3,58.1 670.7,57.2 671.2,55.4 671.6,55.6 672.1,54.8 672.5,54.1 673,52.6 673.4,52.3 673.9,50.9 674.3,50 675.1,48.7 675.9,48.5 676.7,47.8 677.5,46.5 678.4,46.1 679.2,45.4 680.1,44.7 681,44.3" fill="none" stroke="#d81ed8" stroke-width="1.45" stroke-linejoin="round"/>
<polyline points="646.5,104.4 647.2,103.8 647.8,101.9 648.5,102 649.1,100.4 649.8,99.9 650.4,99.3 651.1,98.4 651.7,98.1 652.3,96.8 652.9,95.6 653.5,96.3 654.2,94.5 654.8,92.4 655.4,92.7 656,91.6 656.6,90.8 657.2,90.3 658.2,90.5 659.2,90.7 660.2,89.6 661.2,89.3 662.2,89.4 663.2,91 664.2,91.3 665.4,91.9 666.5,92.5 667.4,91.2 668.3,90.3 668.9,89.5 669.4,88 670,87.7 670.5,86.9 671.1,86.4 671.6,85.8 672.2,83.8 672.7,83.4 673.3,82.3 674.1,81.3 675,81 675.8,80.8 676.6,79.9 677.5,78.8 678.3,78.2 679.6,79 681,78.2" fill="none" stroke="#1e8282" stroke-width="1.45" stroke-linejoin="round"/>
<polyline points="646.5,112.1 647.4,111.9 648.3,111.4 649.3,110.3 650.2,110.3 651.1,109.1 652.1,108.7 653.1,108.7 654.1,108 655.2,107.6 656.2,106.5 657.2,107.2 658.2,106.6 659.2,106 660.2,106.3 661.2,107.1 662.2,107.8 663.2,108.1 663.8,109.2 664.4,108.9 665,111.3 665.7,111 666.3,113.1 666.9,113.1 667.6,112.8 668.3,111.6 668.9,110.8 669.6,110 670.3,109.1 671,108.2 671.7,108.3 672.4,106.6 673.2,106 673.9,105.4 674.6,104 675.3,104 676.2,104 677.2,102.5 678.1,103.2 679.1,102.4 680,102.4 681,101" fill="none" stroke="#0a0ad2" stroke-width="1.45" stroke-linejoin="round"/>
<polyline points="646.5,131.3 647.2,130.2 647.8,129.4 648.5,128.5 649.1,128.2 649.8,126.6 650.4,125.9 651.1,125.2 652,123.6 652.8,124.1 653.7,123.6 654.6,123.8 655.5,122 656.3,122.2 657.2,121.2 658.2,121.7 659.2,122 660.2,121.3 661.2,120.5 662.2,122.2 662.8,122.8 663.4,124.2 664,124.7 664.6,126 665.2,126.2 665.8,128.2 666.3,127.9 666.9,129.2 667.4,128 667.9,127.9 668.3,125.5 668.8,124.1 669.3,124.2 670,123.5 670.6,122.8 671.3,122.5 672,121.4 672.6,120.2 673.3,119.2 674,117.9 674.6,118.1 675.3,117.1 676.1,116.1 676.9,115.5 677.7,115.1 678.6,113.3 679.4,113.5 680.2,112.5 681,112.1" fill="none" stroke="#e61414" stroke-width="1.45" stroke-linejoin="round"/>
<polyline points="646.5,164.2 647,164.2 647.5,162.4 648,162.1 648.6,160.3 649.1,159.1 649.6,159.4 650.1,158.1 650.8,157.2 651.6,156.1 652.3,156.4 653,155.5 653.7,153.8 654.5,153.7 655.2,153.1 656.2,154.2 657.2,153.6 658.2,153.1 659.2,153.5 660.2,154.1 661.2,154.9 662.2,155.2 663.2,155 664.2,154.2 665.2,155.1 666.4,154.9 667.5,154 668.2,152.9 669,152.3 669.7,151.5 670.4,151.5 671.1,150.5 671.8,149.8 672.6,148.6 673.3,148 674.3,147.3 675.3,147.5 676.3,146.2 677.3,146 678.5,145.5 679.8,145.6 681,145" fill="none" stroke="#000" stroke-width="1.45" stroke-linejoin="round"/>
<line x1="421" y1="71.5" x2="429.5" y2="54.5" stroke="#000" stroke-width="1.1"/>
<polygon points="431.5,50.5 431.3,55.4 427.7,53.6" fill="#000"/>
<line x1="542.5" y1="176" x2="532.2" y2="200.5" stroke="#000" stroke-width="1.1"/>
<polygon points="530.4,204.6 530.3,199.7 534,201.2" fill="#000"/>
<line x1="546.5" y1="176" x2="549.8" y2="195.8" stroke="#000" stroke-width="1.1"/>
<polygon points="550.6,200.2 547.9,196.1 551.8,195.4" fill="#000"/>
<text x="1.8" y="17.1" font-family="'Liberation Sans', sans-serif" font-size="20.5" fill="#1f67b5" stroke="#1f67b5" stroke-width="0.3">A</text>
<text transform="translate(339.3 17.1) scale(0.82 1)" font-family="'Liberation Sans', sans-serif" font-size="20.5" fill="#1a6cbc" stroke="#1a6cbc" stroke-width="0.5">B</text>
<text transform="translate(98.0 35.599999999999994) rotate(-90) scale(1 0.8)" font-family="'Liberation Serif', serif" font-size="12.3" fill="#111">211</text>
<text transform="translate(107.2 36.3) rotate(-90) scale(1 0.8)" font-family="'Liberation Serif', serif" font-size="12.3" fill="#111">112</text>
<text transform="translate(111.8 52.599999999999994) rotate(-90) scale(1 0.8)" font-family="'Liberation Serif', serif" font-size="12.3" fill="#111">300</text>
<text transform="translate(120.60000000000001 68.39999999999999) rotate(-90) scale(1 0.8)" font-family="'Liberation Serif', serif" font-size="12.3" fill="#111">202</text>
<text transform="translate(67.2 69.6) rotate(-90) scale(1 0.8)" font-family="'Liberation Serif', serif" font-size="12.3" fill="#111">002</text>
<text transform="translate(79.8 76.8) rotate(-90) scale(1 0.8)" font-family="'Liberation Serif', serif" font-size="12.3" fill="#111">102</text>
<text transform="translate(88.2 74.6) rotate(-90) scale(1 0.8)" font-family="'Liberation Serif', serif" font-size="12.3" fill="#111">210</text>
<text transform="translate(153.2 77.39999999999999) rotate(-90) scale(1 0.8)" font-family="'Liberation Serif', serif" font-size="12.3" fill="#111">310</text>
<text transform="translate(176.89999999999998 75.3) rotate(-90) scale(1 0.8)" font-family="'Liberation Serif', serif" font-size="12.3" fill="#111">113</text>
<text transform="translate(193.6 74.8) rotate(-90) scale(1 0.8)" font-family="'Liberation Serif', serif" font-size="12.3" fill="#111">222</text>
<text transform="translate(200.6 73.89999999999999) rotate(-90) scale(1 0.8)" font-family="'Liberation Serif', serif" font-size="12.3" fill="#111">312</text>
<text transform="translate(208.5 71.3) rotate(-90) scale(1 0.8)" font-family="'Liberation Serif', serif" font-size="12.3" fill="#111">213</text>
<text transform="translate(233.89999999999998 79.3) rotate(-90) scale(1 0.8)" font-family="'Liberation Serif', serif" font-size="12.3" fill="#111">004</text>
<text transform="translate(300.2 79.3) rotate(-90) scale(1 0.8)" font-family="'Liberation Serif', serif" font-size="12.3" fill="#111">304</text>
<polygon points="26.9,65.6 27.8,68 30.3,68.1 28.3,69.7 29,72.1 26.9,70.7 24.8,72.1 25.5,69.7 23.5,68.1 26,68" fill="#000"/>
<polygon points="36.6,67.7 37.5,70.1 40,70.2 38,71.8 38.7,74.2 36.6,72.8 34.5,74.2 35.2,71.8 33.2,70.2 35.7,70.1" fill="#000"/>
<polygon points="179.2,18.8 180.3,21.7 183.4,21.8 181,23.8 181.8,26.8 179.2,25 176.6,26.8 177.4,23.8 175,21.8 178.1,21.7" fill="#000"/>
<polygon points="110.3,110.2 113.1,113 110.3,115.8 107.5,113" fill="#000"/>
<polygon points="189.8,122.4 192.6,125.2 189.8,128 187,125.2" fill="#000"/>
<polygon points="211.5,128.6 214.3,131.4 211.5,134.2 208.7,131.4" fill="#000"/>
<polygon points="232.8,133.7 235.6,136.5 232.8,139.3 230,136.5" fill="#000"/>
<polygon points="282.7,138.6 285.5,141.4 282.7,144.2 279.9,141.4" fill="#000"/>
<polygon points="250.6,18.6 254.2,22.2 250.6,25.8 247,22.2" fill="#000"/>
<text x="185.3" y="28.2" font-family="'Liberation Serif', serif" font-weight="bold" font-size="11.5" letter-spacing="1.1" fill="#111">Cellulose</text>
<text x="258.8" y="29" font-family="'Liberation Serif', serif" font-weight="bold" font-size="11.5" letter-spacing="1.12" fill="#111">Portlandite</text>
<text x="208.9" y="221.8" font-family="'Liberation Serif', serif" font-weight="bold" font-size="10" letter-spacing="1.5" fill="#3a3a3a">HA (JCPDS: 09-0432)</text>
<text x="306.5" y="84.7" font-family="'Liberation Serif', serif" font-weight="bold" font-size="13" letter-spacing="1.8" fill="#2a2a2a">(e)</text>
<text x="306.5" y="109.6" font-family="'Liberation Serif', serif" font-weight="bold" font-size="13" letter-spacing="1.8" fill="#2a2a2a">(d)</text>
<text x="306.5" y="147.3" font-family="'Liberation Serif', serif" font-weight="bold" font-size="13" letter-spacing="1.8" fill="#2a2a2a">(c)</text>
<text x="306.5" y="175.3" font-family="'Liberation Serif', serif" font-weight="bold" font-size="13" letter-spacing="1.8" fill="#2a2a2a">(b)</text>
<text x="306.5" y="198.6" font-family="'Liberation Serif', serif" font-weight="bold" font-size="13" letter-spacing="1.8" fill="#2a2a2a">(a)</text>
<text x="360.3" y="61.5" font-family="'Liberation Serif', serif" font-weight="bold" font-size="14" letter-spacing="0.6" fill="#222">(e)</text>
<text x="360.3" y="93.2" font-family="'Liberation Serif', serif" font-weight="bold" font-size="14" letter-spacing="0.6" fill="#222">(d)</text>
<text x="360.3" y="113" font-family="'Liberation Serif', serif" font-weight="bold" font-size="14" letter-spacing="0.6" fill="#222">(c)</text>
<text x="360.3" y="132.3" font-family="'Liberation Serif', serif" font-weight="bold" font-size="14" letter-spacing="0.6" fill="#222">(b)</text>
<text x="360.3" y="161" font-family="'Liberation Serif', serif" font-weight="bold" font-size="14" letter-spacing="0.6" fill="#222">(a)</text>
<text x="27" y="251.8" text-anchor="middle" font-family="'Liberation Sans', sans-serif" font-weight="bold" font-size="11.5" letter-spacing="1.8" fill="#222">20</text>
<text x="87.8" y="251.8" text-anchor="middle" font-family="'Liberation Sans', sans-serif" font-weight="bold" font-size="11.5" letter-spacing="1.8" fill="#222">30</text>
<text x="148.6" y="251.8" text-anchor="middle" font-family="'Liberation Sans', sans-serif" font-weight="bold" font-size="11.5" letter-spacing="1.8" fill="#222">40</text>
<text x="209.4" y="251.8" text-anchor="middle" font-family="'Liberation Sans', sans-serif" font-weight="bold" font-size="11.5" letter-spacing="1.8" fill="#222">50</text>
<text x="270.2" y="251.8" text-anchor="middle" font-family="'Liberation Sans', sans-serif" font-weight="bold" font-size="11.5" letter-spacing="1.8" fill="#222">60</text>
<text x="331" y="251.8" text-anchor="middle" font-family="'Liberation Sans', sans-serif" font-weight="bold" font-size="11.5" letter-spacing="1.8" fill="#222">70</text>
<text x="356.6" y="251.6" text-anchor="middle" font-family="'Liberation Sans', sans-serif" font-weight="bold" font-size="11" letter-spacing="0.9" fill="#222">4000</text>
<text x="410" y="251.6" text-anchor="middle" font-family="'Liberation Sans', sans-serif" font-weight="bold" font-size="11" letter-spacing="0.9" fill="#222">3500</text>
<text x="464.3" y="251.6" text-anchor="middle" font-family="'Liberation Sans', sans-serif" font-weight="bold" font-size="11" letter-spacing="0.9" fill="#222">3000</text>
<text x="539.6" y="251.6" text-anchor="middle" font-family="'Liberation Sans', sans-serif" font-weight="bold" font-size="11" letter-spacing="0.9" fill="#222">1500</text>
<text x="586.9" y="251.6" text-anchor="middle" font-family="'Liberation Sans', sans-serif" font-weight="bold" font-size="11" letter-spacing="0.9" fill="#222">1000</text>
<text x="634.7" y="251.6" text-anchor="middle" font-family="'Liberation Sans', sans-serif" font-weight="bold" font-size="11" letter-spacing="0.9" fill="#222">500</text>
<text x="662.2" y="250.2" text-anchor="middle" font-family="'Liberation Sans', sans-serif" font-size="11" letter-spacing="0.3" fill="#222">900</text>
<text transform="translate(14.5 180) rotate(-90)" font-family="'Liberation Serif', serif" font-weight="bold" font-size="16.5" letter-spacing="0.85" fill="#111">Intensity (a.u.)</text>
<text transform="translate(352.2 192.5) rotate(-90) scale(0.86 1)" font-family="'Liberation Serif', serif" font-weight="bold" font-size="19.5" fill="#111">Transmittance</text>
<text transform="translate(352.4 87.2) rotate(-90) scale(0.9 1)" font-family="'Liberation Serif', serif" font-weight="bold" font-size="19.5" fill="#111">(%)</text>
<text x="131.4" y="265.9" font-family="'Liberation Serif', serif" font-weight="bold" font-size="15" letter-spacing="0.2" fill="#111">2θ</text>
<text x="154.4" y="265.9" font-family="'Liberation Serif', serif" font-weight="bold" font-size="15" letter-spacing="-0.3" fill="#111">(d</text>
<text x="171.2" y="265.9" font-family="'Liberation Serif', serif" font-weight="bold" font-size="15" letter-spacing="1.9" fill="#111">egree)</text>
<text x="453.7" y="267.8" font-family="'Liberation Serif', serif" font-weight="bold" font-size="16" letter-spacing="0.6" fill="#111">Wavenumbers</text>
<text x="562.6" y="267.8" font-family="'Liberation Serif', serif" font-weight="bold" font-size="16" letter-spacing="0.3" fill="#111">(cm</text>
<text x="591.2" y="261.5" font-family="'Liberation Serif', serif" font-weight="bold" font-size="10" fill="#111">-1</text>
<text x="600.6" y="267.8" font-family="'Liberation Serif', serif" font-weight="bold" font-size="16" fill="#111">)</text>
<text x="362.3" y="22" font-family="'Liberation Serif', serif" font-weight="bold" font-size="13.4" fill="#111">Cellulose</text>
<text x="422.50" y="42.00" font-family="'Liberation Serif', serif" font-style="normal" font-weight="normal" font-size="12.40" letter-spacing="-0.17" fill="#1a1a1a">3376</text>
<text x="375.00" y="187.50" font-family="'Liberation Serif', serif" font-style="normal" font-weight="normal" font-size="12.40" letter-spacing="0.13" fill="#1a1a1a">3646</text>
<text x="404.50" y="206.00" font-family="'Liberation Serif', serif" font-style="normal" font-weight="normal" font-size="12.60" letter-spacing="0.03" fill="#1a1a1a">3437</text>
<text x="458.50" y="177.00" font-family="'Liberation Serif', serif" font-style="normal" font-weight="normal" font-size="12.20" letter-spacing="0.50" fill="#1a1a1a">2915</text>
<text x="498.00" y="179.50" font-family="'Liberation Serif', serif" font-style="normal" font-weight="normal" font-size="12.20" letter-spacing="0.77" fill="#1a1a1a">1669</text>
<text x="504.50" y="193.00" font-family="'Liberation Serif', serif" font-style="normal" font-weight="normal" font-size="12.20" letter-spacing="0.73" fill="#1a1a1a">1635</text>
<text x="511.00" y="219.50" font-family="'Liberation Serif', serif" font-style="normal" font-weight="normal" font-size="12.20" letter-spacing="0.20" fill="#1a1a1a">1472</text>
<text x="540.00" y="214.50" font-family="'Liberation Serif', serif" font-style="normal" font-weight="normal" font-size="12.20" letter-spacing="0.10" fill="#1a1a1a">1422</text>
<text x="570.50" y="229.00" font-family="'Liberation Serif', serif" font-style="normal" font-weight="normal" font-size="12.20" letter-spacing="-0.17" fill="#1a1a1a">1036</text>
<text x="603.50" y="194.50" font-family="'Liberation Serif', serif" font-style="normal" font-weight="normal" font-size="11.80" letter-spacing="0.40" fill="#1a1a1a">604</text>
<text x="618.50" y="208.00" font-family="'Liberation Serif', serif" font-style="normal" font-weight="normal" font-size="12.00" letter-spacing="0.25" fill="#1a1a1a">559</text>
<text x="647.50" y="175.50" font-family="'Liberation Serif', serif" font-style="normal" font-weight="bold" font-size="10.50" letter-spacing="0.45" fill="#1a1a1a">891</text>
<text x="662.00" y="189.50" font-family="'Liberation Serif', serif" font-style="normal" font-weight="bold" font-size="10.50" letter-spacing="1.10" fill="#1a1a1a">872</text>
</svg>
</body></html>
